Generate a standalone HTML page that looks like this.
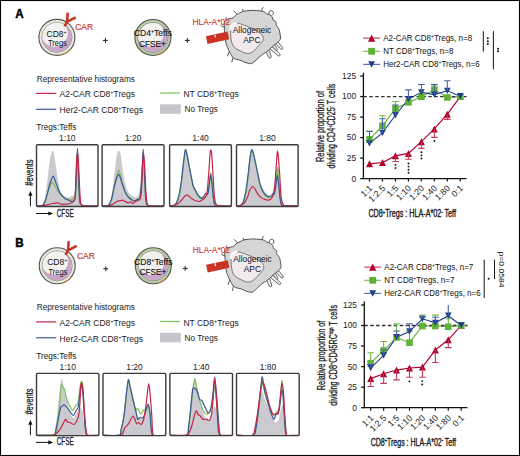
<!DOCTYPE html><html><head><meta charset="utf-8"><style>html,body{margin:0;padding:0;background:#fff}svg{display:block}text{font-family:"Liberation Sans",sans-serif}</style></head><body>
<svg width="520" height="456" viewBox="0 0 520 456">
<rect x="0" y="0" width="520" height="456" fill="#fff"/>
<text x="15.2" y="18.2" font-size="13.2" fill="#000" text-anchor="start" font-weight="bold" textLength="8.4" lengthAdjust="spacingAndGlyphs" stroke="#000" stroke-width="0.5">A</text>
<g>
<circle cx="56.9" cy="37.4" r="18" fill="#e7e9da" stroke="#555" stroke-width="1.1"/>
<path d="M70.69,48.97 A18,18 0 0,1 61.56,54.79" fill="none" stroke="#d98a2a" stroke-width="1" opacity="0.8"/>
<circle cx="56.9" cy="37.4" r="15" fill="#f1f2ed" stroke="#7d7d7d" stroke-width="0.8"/>
<clipPath id="cc606"><circle cx="56.9" cy="37.4" r="14.6"/></clipPath>
<g clip-path="url(#cc606)"><circle cx="56.9" cy="37.4" r="15" fill="#c9a6c8"/><circle cx="54.3" cy="33.2" r="13.4" fill="#f1f2ed"/></g>
<path d="M47.9,27.4 A13,13 0 0,1 52.9,24.9" fill="none" stroke="#ffffff" stroke-width="1.6" stroke-linecap="round"/>
<text x="46.6" y="36.75" font-size="8.8" fill="#111" textLength="20" lengthAdjust="spacingAndGlyphs">CD8<tspan font-size="5.5" dy="-3">+</tspan></text>
<text x="47.9" y="46.1" font-size="8.8" fill="#111" textLength="19" lengthAdjust="spacingAndGlyphs">Tregs</text>
</g>
<path d="M64.5,26.3 L67.1,21.8 L67.7,12.6 M67.1,21.8 L75.7,17.3" stroke="#c93424" stroke-width="2.6" fill="none" stroke-linecap="butt" stroke-linejoin="miter"/>
<text x="75.2" y="29.6" font-size="9.3" fill="#c93424" text-anchor="start" font-weight="normal" textLength="17.9" lengthAdjust="spacingAndGlyphs" stroke="#c93424" stroke-width="0.15">CAR</text>
<path d="M102.9,40.4 h5 M105.4,37.9 v5" stroke="#222" stroke-width="1" fill="none"/>
<g>
<circle cx="152.9" cy="37.5" r="18" fill="#b9cca3" stroke="#555" stroke-width="1.1"/>
<path d="M166.69,49.07 A18,18 0 0,1 157.56,54.89" fill="none" stroke="#d98a2a" stroke-width="1" opacity="0.8"/>
<circle cx="152.9" cy="37.5" r="15" fill="#f1f2ed" stroke="#7d7d7d" stroke-width="0.8"/>
<clipPath id="cc1566"><circle cx="152.9" cy="37.5" r="14.6"/></clipPath>
<g clip-path="url(#cc1566)"><circle cx="152.9" cy="37.5" r="15" fill="#c9a6c8"/><circle cx="150.3" cy="33.3" r="13.4" fill="#f1f2ed"/></g>
<path d="M143.9,27.5 A13,13 0 0,1 148.9,25" fill="none" stroke="#ffffff" stroke-width="1.6" stroke-linecap="round"/>
<text x="133.8" y="36.3" font-size="8.8" fill="#111" textLength="38.2" lengthAdjust="spacingAndGlyphs" stroke="#111" stroke-width="0.12">CD4<tspan font-size="5.5" dy="-3">+</tspan><tspan dy="3">Teffs</tspan></text>
<text x="138.9" y="46.5" font-size="8.8" fill="#111" textLength="27.1" lengthAdjust="spacingAndGlyphs" stroke="#111" stroke-width="0.12">CFSE+</text>
</g>
<path d="M184.9,40.4 h5 M187.4,37.9 v5" stroke="#222" stroke-width="1" fill="none"/>
<path d="M275.59,43.49 C275.73,44.34 277.65,45.88 278.49,46.79 C279.32,47.71 279.94,48.59 280.6,48.99 C281.25,49.39 282.1,49.47 282.4,49.2 C282.7,48.93 282.74,48.08 282.42,47.38 C282.11,46.69 281.32,45.95 280.51,45.01 C279.71,44.06 278.44,41.96 277.61,41.71 C276.79,41.46 275.44,42.64 275.59,43.49Z" fill="#ececec" stroke="#505050" stroke-width="0.9"/>
<path d="M272.32,45.63 C272.25,46.33 273.54,47.76 274.02,48.53 C274.5,49.31 274.73,49.91 275.2,50.29 C275.66,50.67 276.48,50.99 276.8,50.8 C277.12,50.61 277.24,49.74 277.14,49.15 C277.03,48.56 276.62,48.07 276.18,47.27 C275.74,46.47 275.12,44.64 274.48,44.37 C273.84,44.1 272.4,44.94 272.32,45.63Z" fill="#ececec" stroke="#505050" stroke-width="0.9"/>
<path d="M269.91,48.62 C270.39,49.62 273.14,51.45 274.51,52.62 C275.89,53.79 277.27,55.13 278.18,55.63 C279.1,56.13 279.73,55.91 280,55.6 C280.27,55.29 280.4,54.63 279.78,53.8 C279.16,52.96 277.63,51.78 276.29,50.58 C274.94,49.38 272.75,46.91 271.69,46.58 C270.62,46.25 269.44,47.61 269.91,48.62Z" fill="#ececec" stroke="#505050" stroke-width="0.9"/>
<path d="M266.24,51.1 C266.02,51.9 267.23,53.9 267.64,54.95 C268.04,55.99 268.22,56.82 268.68,57.38 C269.14,57.94 269.99,58.45 270.4,58.3 C270.81,58.15 271.14,57.22 271.13,56.49 C271.12,55.77 270.72,55.02 270.36,53.95 C270,52.89 269.65,50.58 268.96,50.1 C268.28,49.63 266.46,50.29 266.24,51.1Z" fill="#ececec" stroke="#505050" stroke-width="0.9"/>
<path d="M224.8,36 C224.53,33.77 224.68,31.95 224.6,30.5 C224.52,29.05 224.35,28.57 224.3,27.3 C224.25,26.03 224.03,24.05 224.3,22.9 C224.57,21.75 225.22,21.08 225.9,20.4 C226.58,19.72 227.4,19.15 228.4,18.8 C229.4,18.45 230.87,18.67 231.9,18.3 C232.93,17.93 233.82,17.25 234.6,16.6 C235.38,15.95 235.98,14.88 236.6,14.4 C237.22,13.92 237.58,14.03 238.3,13.7 C239.02,13.37 240.03,12.82 240.9,12.4 C241.77,11.98 242.35,11.48 243.5,11.2 C244.65,10.92 246.38,10.85 247.8,10.7 C249.22,10.55 250.6,10.33 252,10.3 C253.4,10.27 254.82,10.4 256.2,10.5 C257.58,10.6 259.03,10.7 260.3,10.9 C261.57,11.1 262.77,11.25 263.8,11.7 C264.83,12.15 265.67,13.17 266.5,13.6 C267.33,14.03 268.05,13.97 268.8,14.3 C269.55,14.63 270.37,15 271,15.6 C271.63,16.2 272.23,17.17 272.6,17.9 C272.97,18.63 272.8,19.47 273.2,20 C273.6,20.53 274.48,20.7 275,21.1 C275.52,21.5 276.13,21.92 276.3,22.4 C276.47,22.88 275.95,23.43 276,24 C276.05,24.57 276.27,25.2 276.6,25.8 C276.93,26.4 277.53,26.85 278,27.6 C278.47,28.35 279.07,29.23 279.4,30.3 C279.73,31.37 279.8,32.72 280,34 C280.2,35.28 280.67,36.95 280.6,38 C280.53,39.05 280.07,39.58 279.6,40.3 C279.13,41.02 278.53,41.63 277.8,42.3 C277.07,42.97 276.08,43.58 275.2,44.3 C274.32,45.02 273.62,45.6 272.5,46.6 C271.38,47.6 269.55,49.37 268.5,50.3 C267.45,51.23 266.93,51.68 266.2,52.2 C265.47,52.72 264.97,52.85 264.1,53.4 C263.23,53.95 262.02,54.7 261,55.5 C259.98,56.3 259,57.27 258,58.2 C257,59.13 256.07,60.2 255,61.1 C253.93,62 252.78,63.25 251.6,63.6 C250.42,63.95 249.15,63.47 247.9,63.2 C246.65,62.93 245.23,62.45 244.1,62 C242.97,61.55 242.1,60.88 241.1,60.5 C240.1,60.12 239.08,59.95 238.1,59.7 C237.12,59.45 236.07,59.37 235.2,59 C234.33,58.63 233.53,58.13 232.9,57.5 C232.27,56.87 232.02,56.2 231.4,55.2 C230.78,54.2 229.82,52.75 229.2,51.5 C228.58,50.25 228.2,48.97 227.7,47.7 C227.2,46.43 226.68,45.85 226.2,43.9 C225.72,41.95 225.07,38.23 224.8,36Z" fill="#d5d5d6" stroke="#505050" stroke-width="1.0"/>
<path d="M224.4,27.3 C224.1,27.18 223.15,26.87 222.6,26.6 C222.05,26.33 221.35,25.85 221.1,25.7" fill="none" stroke="#505050" stroke-width="1.0" stroke-linecap="round"/>
<path d="M226.4,19.9 C226.28,19.63 225.7,18.75 225.7,18.3 C225.7,17.85 226.28,17.38 226.4,17.2" fill="none" stroke="#505050" stroke-width="1.0" stroke-linecap="round"/>
<path d="M236.9,14.2 C236.62,13.88 235.7,12.83 235.2,12.3 C234.7,11.77 234.12,11.22 233.9,11" fill="none" stroke="#505050" stroke-width="1.0" stroke-linecap="round"/>
<path d="M243.2,11.3 C243.13,11.12 242.9,10.52 242.8,10.2 C242.7,9.88 242.63,9.53 242.6,9.4" fill="none" stroke="#505050" stroke-width="1.0" stroke-linecap="round"/>
<path d="M261.9,10.9 C261.92,10.62 261.8,9.77 262,9.2 C262.2,8.63 262.92,7.78 263.1,7.5" fill="none" stroke="#505050" stroke-width="1.0" stroke-linecap="round"/>
<path d="M268.8,14.2 C268.85,13.82 268.78,12.5 269.1,11.9 C269.42,11.3 270.08,10.7 270.7,10.6 C271.32,10.5 272.35,10.8 272.8,11.3 C273.25,11.8 273.52,12.95 273.4,13.6 C273.28,14.25 272.32,14.93 272.1,15.2" fill="none" stroke="#505050" stroke-width="1.0" stroke-linecap="round"/>
<path d="M229.3,51.8 C229.1,52.17 228.37,53.32 228.1,54 C227.83,54.68 227.77,55.58 227.7,55.9" fill="none" stroke="#505050" stroke-width="1.0" stroke-linecap="round"/>
<path d="M233,57.6 C232.88,58 232.5,59.28 232.3,60 C232.1,60.72 231.88,61.58 231.8,61.9" fill="none" stroke="#505050" stroke-width="1.0" stroke-linecap="round"/>
<path d="M231.2,27 C231.77,25.47 232.97,24.43 234,23.8 C235.03,23.17 236.07,23.1 237.4,23.2 C238.73,23.3 240.27,23.83 242,24.4 C243.73,24.97 245.8,25.78 247.8,26.6 C249.8,27.42 252.22,28.4 254,29.3 C255.78,30.2 257.17,31.05 258.5,32 C259.83,32.95 261.18,33.92 262,35 C262.82,36.08 263.4,37.33 263.4,38.5 C263.4,39.67 262.77,40.83 262,42 C261.23,43.17 259.8,44.38 258.8,45.5 C257.8,46.62 256.97,47.7 256,48.7 C255.03,49.7 254.08,50.73 253,51.5 C251.92,52.27 250.83,53.05 249.5,53.3 C248.17,53.55 246.52,53.4 245,53 C243.48,52.6 241.92,51.63 240.4,50.9 C238.88,50.17 237.15,49.52 235.9,48.6 C234.65,47.68 233.68,46.83 232.9,45.4 C232.12,43.97 231.58,42.07 231.2,40 C230.82,37.93 230.6,35.17 230.6,33 C230.6,30.83 230.63,28.53 231.2,27Z" fill="#f4eaed" stroke="#5e5e5e" stroke-width="0.8"/>
<path d="M230.4,29.5 Q231,23.6 236.2,22.9" fill="none" stroke="#fff" stroke-width="2.0" stroke-linecap="round"/>
<text x="232.7" y="33.3" font-size="8.6" fill="#111" text-anchor="start" font-weight="normal" textLength="38.6" lengthAdjust="spacingAndGlyphs" >Allogeneic</text>
<text x="243.2" y="43.1" font-size="8.6" fill="#111" text-anchor="start" font-weight="normal" textLength="17.4" lengthAdjust="spacingAndGlyphs" >APC</text>
<text x="192.5" y="24.5" font-size="9.2" fill="#c93424" text-anchor="start" font-weight="normal" textLength="37.3" lengthAdjust="spacingAndGlyphs" stroke="#c93424" stroke-width="0.1">HLA-A*02</text>
<path d="M205.9,36.2 L227.6,31.6 L229.2,39.2 L207.5,44 Z" fill="#c93424"/>
<path d="M214.8,34.5 l0.6,3" stroke="#fff" stroke-width="1.1"/>
<text x="15.2" y="246.8" font-size="13.2" fill="#000" text-anchor="start" font-weight="bold" textLength="8.4" lengthAdjust="spacingAndGlyphs" stroke="#000" stroke-width="0.5">B</text>
<g>
<circle cx="57.2" cy="265.8" r="18" fill="#e7e9da" stroke="#555" stroke-width="1.1"/>
<path d="M70.99,277.37 A18,18 0 0,1 61.86,283.19" fill="none" stroke="#d98a2a" stroke-width="1" opacity="0.8"/>
<circle cx="57.2" cy="265.8" r="15" fill="#f1f2ed" stroke="#7d7d7d" stroke-width="0.8"/>
<clipPath id="cc837"><circle cx="57.2" cy="265.8" r="14.6"/></clipPath>
<g clip-path="url(#cc837)"><circle cx="57.2" cy="265.8" r="15" fill="#c9a6c8"/><circle cx="54.6" cy="261.6" r="13.4" fill="#f1f2ed"/></g>
<path d="M48.2,255.8 A13,13 0 0,1 53.2,253.3" fill="none" stroke="#ffffff" stroke-width="1.6" stroke-linecap="round"/>
<text x="47.2" y="265" font-size="8.8" fill="#111" textLength="20.2" lengthAdjust="spacingAndGlyphs">CD8<tspan font-size="5.5" dy="-3">+</tspan></text>
<text x="48.5" y="274.5" font-size="8.8" fill="#111" textLength="18.8" lengthAdjust="spacingAndGlyphs">Tregs</text>
</g>
<path d="M65.5,254.9 L68.1,250.4 L68.7,241.2 M68.1,250.4 L76.7,245.9" stroke="#c93424" stroke-width="2.6" fill="none" stroke-linecap="butt" stroke-linejoin="miter"/>
<text x="77" y="258.9" font-size="9.3" fill="#c93424" text-anchor="start" font-weight="normal" textLength="17.9" lengthAdjust="spacingAndGlyphs" stroke="#c93424" stroke-width="0.15">CAR</text>
<path d="M103.3,268.8 h5 M105.8,266.3 v5" stroke="#222" stroke-width="1" fill="none"/>
<g>
<circle cx="153.3" cy="265.8" r="18" fill="#b9cca3" stroke="#555" stroke-width="1.1"/>
<path d="M167.09,277.37 A18,18 0 0,1 157.96,283.19" fill="none" stroke="#d98a2a" stroke-width="1" opacity="0.8"/>
<circle cx="153.3" cy="265.8" r="15" fill="#f1f2ed" stroke="#7d7d7d" stroke-width="0.8"/>
<clipPath id="cc1798"><circle cx="153.3" cy="265.8" r="14.6"/></clipPath>
<g clip-path="url(#cc1798)"><circle cx="153.3" cy="265.8" r="15" fill="#c9a6c8"/><circle cx="150.7" cy="261.6" r="13.4" fill="#f1f2ed"/></g>
<path d="M144.3,255.8 A13,13 0 0,1 149.3,253.3" fill="none" stroke="#ffffff" stroke-width="1.6" stroke-linecap="round"/>
<text x="134" y="264.8" font-size="8.8" fill="#111" textLength="38.5" lengthAdjust="spacingAndGlyphs" stroke="#111" stroke-width="0.12">CD8<tspan font-size="5.5" dy="-3">+</tspan><tspan dy="3">Teffs</tspan></text>
<text x="139.4" y="274.6" font-size="8.8" fill="#111" textLength="27.1" lengthAdjust="spacingAndGlyphs" stroke="#111" stroke-width="0.12">CFSE+</text>
</g>
<path d="M182.7,268.4 h5 M185.2,265.9 v5" stroke="#222" stroke-width="1" fill="none"/>
<path d="M276.09,272.09 C276.23,272.94 278.15,274.48 278.99,275.39 C279.82,276.31 280.44,277.19 281.1,277.59 C281.75,277.99 282.6,278.07 282.9,277.8 C283.2,277.53 283.24,276.68 282.92,275.98 C282.61,275.29 281.82,274.55 281.01,273.61 C280.21,272.66 278.94,270.56 278.11,270.31 C277.29,270.06 275.94,271.24 276.09,272.09Z" fill="#ececec" stroke="#505050" stroke-width="0.9"/>
<path d="M272.82,274.23 C272.75,274.93 274.04,276.36 274.52,277.13 C275,277.91 275.23,278.51 275.7,278.89 C276.16,279.27 276.98,279.59 277.3,279.4 C277.62,279.21 277.74,278.34 277.64,277.75 C277.53,277.16 277.12,276.67 276.68,275.87 C276.24,275.07 275.62,273.24 274.98,272.97 C274.34,272.7 272.9,273.54 272.82,274.23Z" fill="#ececec" stroke="#505050" stroke-width="0.9"/>
<path d="M270.41,277.22 C270.89,278.22 273.64,280.05 275.01,281.22 C276.39,282.39 277.77,283.73 278.68,284.23 C279.6,284.73 280.23,284.51 280.5,284.2 C280.77,283.89 280.9,283.23 280.28,282.4 C279.66,281.56 278.13,280.38 276.79,279.18 C275.44,277.98 273.25,275.51 272.19,275.18 C271.12,274.85 269.94,276.21 270.41,277.22Z" fill="#ececec" stroke="#505050" stroke-width="0.9"/>
<path d="M266.74,279.7 C266.52,280.5 267.73,282.5 268.14,283.55 C268.54,284.59 268.72,285.42 269.18,285.98 C269.64,286.54 270.49,287.05 270.9,286.9 C271.31,286.75 271.64,285.82 271.63,285.09 C271.62,284.37 271.22,283.62 270.86,282.55 C270.5,281.49 270.15,279.18 269.46,278.7 C268.78,278.23 266.96,278.89 266.74,279.7Z" fill="#ececec" stroke="#505050" stroke-width="0.9"/>
<path d="M225.3,264.6 C225.03,262.37 225.18,260.55 225.1,259.1 C225.02,257.65 224.85,257.17 224.8,255.9 C224.75,254.63 224.53,252.65 224.8,251.5 C225.07,250.35 225.72,249.68 226.4,249 C227.08,248.32 227.9,247.75 228.9,247.4 C229.9,247.05 231.37,247.27 232.4,246.9 C233.43,246.53 234.32,245.85 235.1,245.2 C235.88,244.55 236.48,243.48 237.1,243 C237.72,242.52 238.08,242.63 238.8,242.3 C239.52,241.97 240.53,241.42 241.4,241 C242.27,240.58 242.85,240.08 244,239.8 C245.15,239.52 246.88,239.45 248.3,239.3 C249.72,239.15 251.1,238.93 252.5,238.9 C253.9,238.87 255.32,239 256.7,239.1 C258.08,239.2 259.53,239.3 260.8,239.5 C262.07,239.7 263.27,239.85 264.3,240.3 C265.33,240.75 266.17,241.77 267,242.2 C267.83,242.63 268.55,242.57 269.3,242.9 C270.05,243.23 270.87,243.6 271.5,244.2 C272.13,244.8 272.73,245.77 273.1,246.5 C273.47,247.23 273.3,248.07 273.7,248.6 C274.1,249.13 274.98,249.3 275.5,249.7 C276.02,250.1 276.63,250.52 276.8,251 C276.97,251.48 276.45,252.03 276.5,252.6 C276.55,253.17 276.77,253.8 277.1,254.4 C277.43,255 278.03,255.45 278.5,256.2 C278.97,256.95 279.57,257.83 279.9,258.9 C280.23,259.97 280.3,261.32 280.5,262.6 C280.7,263.88 281.17,265.55 281.1,266.6 C281.03,267.65 280.57,268.18 280.1,268.9 C279.63,269.62 279.03,270.23 278.3,270.9 C277.57,271.57 276.58,272.18 275.7,272.9 C274.82,273.62 274.12,274.2 273,275.2 C271.88,276.2 270.05,277.97 269,278.9 C267.95,279.83 267.43,280.28 266.7,280.8 C265.97,281.32 265.47,281.45 264.6,282 C263.73,282.55 262.52,283.3 261.5,284.1 C260.48,284.9 259.5,285.87 258.5,286.8 C257.5,287.73 256.57,288.8 255.5,289.7 C254.43,290.6 253.28,291.85 252.1,292.2 C250.92,292.55 249.65,292.07 248.4,291.8 C247.15,291.53 245.73,291.05 244.6,290.6 C243.47,290.15 242.6,289.48 241.6,289.1 C240.6,288.72 239.58,288.55 238.6,288.3 C237.62,288.05 236.57,287.97 235.7,287.6 C234.83,287.23 234.03,286.73 233.4,286.1 C232.77,285.47 232.52,284.8 231.9,283.8 C231.28,282.8 230.32,281.35 229.7,280.1 C229.08,278.85 228.7,277.57 228.2,276.3 C227.7,275.03 227.18,274.45 226.7,272.5 C226.22,270.55 225.57,266.83 225.3,264.6Z" fill="#d5d5d6" stroke="#505050" stroke-width="1.0"/>
<path d="M224.9,255.9 C224.6,255.78 223.65,255.47 223.1,255.2 C222.55,254.93 221.85,254.45 221.6,254.3" fill="none" stroke="#505050" stroke-width="1.0" stroke-linecap="round"/>
<path d="M226.9,248.5 C226.78,248.23 226.2,247.35 226.2,246.9 C226.2,246.45 226.78,245.98 226.9,245.8" fill="none" stroke="#505050" stroke-width="1.0" stroke-linecap="round"/>
<path d="M237.4,242.8 C237.12,242.48 236.2,241.43 235.7,240.9 C235.2,240.37 234.62,239.82 234.4,239.6" fill="none" stroke="#505050" stroke-width="1.0" stroke-linecap="round"/>
<path d="M243.7,239.9 C243.63,239.72 243.4,239.12 243.3,238.8 C243.2,238.48 243.13,238.13 243.1,238" fill="none" stroke="#505050" stroke-width="1.0" stroke-linecap="round"/>
<path d="M262.4,239.5 C262.42,239.22 262.3,238.37 262.5,237.8 C262.7,237.23 263.42,236.38 263.6,236.1" fill="none" stroke="#505050" stroke-width="1.0" stroke-linecap="round"/>
<path d="M269.3,242.8 C269.35,242.42 269.28,241.1 269.6,240.5 C269.92,239.9 270.58,239.3 271.2,239.2 C271.82,239.1 272.85,239.4 273.3,239.9 C273.75,240.4 274.02,241.55 273.9,242.2 C273.78,242.85 272.82,243.53 272.6,243.8" fill="none" stroke="#505050" stroke-width="1.0" stroke-linecap="round"/>
<path d="M229.8,280.4 C229.6,280.77 228.87,281.92 228.6,282.6 C228.33,283.28 228.27,284.18 228.2,284.5" fill="none" stroke="#505050" stroke-width="1.0" stroke-linecap="round"/>
<path d="M233.5,286.2 C233.38,286.6 233,287.88 232.8,288.6 C232.6,289.32 232.38,290.18 232.3,290.5" fill="none" stroke="#505050" stroke-width="1.0" stroke-linecap="round"/>
<path d="M231.7,255.6 C232.27,254.07 233.47,253.03 234.5,252.4 C235.53,251.77 236.57,251.7 237.9,251.8 C239.23,251.9 240.77,252.43 242.5,253 C244.23,253.57 246.3,254.38 248.3,255.2 C250.3,256.02 252.72,257 254.5,257.9 C256.28,258.8 257.67,259.65 259,260.6 C260.33,261.55 261.68,262.52 262.5,263.6 C263.32,264.68 263.9,265.93 263.9,267.1 C263.9,268.27 263.27,269.43 262.5,270.6 C261.73,271.77 260.3,272.98 259.3,274.1 C258.3,275.22 257.47,276.3 256.5,277.3 C255.53,278.3 254.58,279.33 253.5,280.1 C252.42,280.87 251.33,281.65 250,281.9 C248.67,282.15 247.02,282 245.5,281.6 C243.98,281.2 242.42,280.23 240.9,279.5 C239.38,278.77 237.65,278.12 236.4,277.2 C235.15,276.28 234.18,275.43 233.4,274 C232.62,272.57 232.08,270.67 231.7,268.6 C231.32,266.53 231.1,263.77 231.1,261.6 C231.1,259.43 231.13,257.13 231.7,255.6Z" fill="#f4eaed" stroke="#5e5e5e" stroke-width="0.8"/>
<path d="M230.9,258.1 Q231.5,252.2 236.7,251.5" fill="none" stroke="#fff" stroke-width="2.0" stroke-linecap="round"/>
<text x="233.2" y="261.9" font-size="8.6" fill="#111" text-anchor="start" font-weight="normal" textLength="38.6" lengthAdjust="spacingAndGlyphs" >Allogeneic</text>
<text x="243.7" y="271.7" font-size="8.6" fill="#111" text-anchor="start" font-weight="normal" textLength="17.4" lengthAdjust="spacingAndGlyphs" >APC</text>
<text x="192.7" y="253.1" font-size="9.2" fill="#c93424" text-anchor="start" font-weight="normal" textLength="37.3" lengthAdjust="spacingAndGlyphs" stroke="#c93424" stroke-width="0.1">HLA-A*02</text>
<path d="M206.1,264.8 L227.8,260.2 L229.4,267.8 L207.7,272.6 Z" fill="#c93424"/>
<path d="M215,263.1 l0.6,3" stroke="#fff" stroke-width="1.1"/>
<text x="36.7" y="81.6" font-size="8.3" fill="#1a1a1a" text-anchor="start" font-weight="normal" textLength="98.3" lengthAdjust="spacingAndGlyphs" >Representative histograms</text>
<line x1="36.1" y1="93.4" x2="56.3" y2="93.4" stroke="#c4254a" stroke-width="1.2"/>
<line x1="36.1" y1="109.3" x2="56.3" y2="109.3" stroke="#3a5a96" stroke-width="1.2"/>
<line x1="160.2" y1="93" x2="179.8" y2="93" stroke="#7cc052" stroke-width="1.2"/>
<rect x="160" y="104.3" width="20.8" height="9.5" fill="#c5c4ca"/>
<text x="59.6" y="97.4" font-size="8.5" fill="#1a1a1a" text-anchor="start" font-weight="normal" textLength="75.4" lengthAdjust="spacingAndGlyphs" >A2-CAR CD8<tspan font-size="5.5" dy="-3">+</tspan><tspan dy="3">Tregs</tspan></text>
<text x="59.6" y="113.4" font-size="8.5" fill="#1a1a1a" text-anchor="start" font-weight="normal" textLength="83.4" lengthAdjust="spacingAndGlyphs" >Her2-CAR CD8<tspan font-size="5.5" dy="-3">+</tspan><tspan dy="3">Tregs</tspan></text>
<text x="183.4" y="97.1" font-size="8.5" fill="#1a1a1a" text-anchor="start" font-weight="normal" textLength="55.3" lengthAdjust="spacingAndGlyphs" >NT CD8<tspan font-size="5.5" dy="-3">+</tspan><tspan dy="3">Tregs</tspan></text>
<text x="184.6" y="112.2" font-size="8.5" fill="#1a1a1a" text-anchor="start" font-weight="normal" textLength="33.2" lengthAdjust="spacingAndGlyphs" >No Tregs</text>
<text x="36.7" y="310.1" font-size="8.3" fill="#1a1a1a" text-anchor="start" font-weight="normal" textLength="98.3" lengthAdjust="spacingAndGlyphs" >Representative histograms</text>
<line x1="36.1" y1="321.9" x2="56.3" y2="321.9" stroke="#c4254a" stroke-width="1.2"/>
<line x1="36.1" y1="337.8" x2="56.3" y2="337.8" stroke="#3a5a96" stroke-width="1.2"/>
<line x1="160.2" y1="321.5" x2="179.8" y2="321.5" stroke="#7cc052" stroke-width="1.2"/>
<rect x="160" y="332.8" width="20.8" height="9.5" fill="#c5c4ca"/>
<text x="59.6" y="325.9" font-size="8.5" fill="#1a1a1a" text-anchor="start" font-weight="normal" textLength="75.4" lengthAdjust="spacingAndGlyphs" >A2-CAR CD8<tspan font-size="5.5" dy="-3">+</tspan><tspan dy="3">Tregs</tspan></text>
<text x="59.6" y="341.9" font-size="8.5" fill="#1a1a1a" text-anchor="start" font-weight="normal" textLength="83.4" lengthAdjust="spacingAndGlyphs" >Her2-CAR CD8<tspan font-size="5.5" dy="-3">+</tspan><tspan dy="3">Tregs</tspan></text>
<text x="183.4" y="325.6" font-size="8.5" fill="#1a1a1a" text-anchor="start" font-weight="normal" textLength="55.3" lengthAdjust="spacingAndGlyphs" >NT CD8<tspan font-size="5.5" dy="-3">+</tspan><tspan dy="3">Tregs</tspan></text>
<text x="184.6" y="340.7" font-size="8.5" fill="#1a1a1a" text-anchor="start" font-weight="normal" textLength="33.2" lengthAdjust="spacingAndGlyphs" >No Tregs</text>
<text x="36.2" y="129.9" font-size="8.3" fill="#1a1a1a" text-anchor="start" font-weight="normal" textLength="40.3" lengthAdjust="spacingAndGlyphs" >Tregs:Teffs</text>
<text x="36.2" y="358.7" font-size="8.3" fill="#1a1a1a" text-anchor="start" font-weight="normal" textLength="40.3" lengthAdjust="spacingAndGlyphs" >Tregs:Teffs</text>
<text x="67.35" y="140.9" font-size="8.3" fill="#1a1a1a" text-anchor="middle" font-weight="normal" textLength="16.5" lengthAdjust="spacingAndGlyphs" >1:10</text>
<text x="133.15" y="140.9" font-size="8.3" fill="#1a1a1a" text-anchor="middle" font-weight="normal" textLength="16.5" lengthAdjust="spacingAndGlyphs" >1:20</text>
<text x="200.6" y="140.9" font-size="8.3" fill="#1a1a1a" text-anchor="middle" font-weight="normal" textLength="16.5" lengthAdjust="spacingAndGlyphs" >1:40</text>
<text x="267.4" y="140.9" font-size="8.3" fill="#1a1a1a" text-anchor="middle" font-weight="normal" textLength="16.5" lengthAdjust="spacingAndGlyphs" >1:80</text>
<text x="67.8" y="369.7" font-size="8.3" fill="#1a1a1a" text-anchor="middle" font-weight="normal" textLength="16.5" lengthAdjust="spacingAndGlyphs" >1:10</text>
<text x="134.5" y="369.7" font-size="8.3" fill="#1a1a1a" text-anchor="middle" font-weight="normal" textLength="16.5" lengthAdjust="spacingAndGlyphs" >1:20</text>
<text x="201.3" y="369.7" font-size="8.3" fill="#1a1a1a" text-anchor="middle" font-weight="normal" textLength="16.5" lengthAdjust="spacingAndGlyphs" >1:40</text>
<text x="267.95" y="369.7" font-size="8.3" fill="#1a1a1a" text-anchor="middle" font-weight="normal" textLength="16.5" lengthAdjust="spacingAndGlyphs" >1:80</text>
<clipPath id="c36_144"><rect x="36.5" y="144.75" width="61.5" height="61.75"/></clipPath>
<g clip-path="url(#c36_144)">
<path d="M36.5,206.5 C37.07,206.4 40.5,206.11 41.4,205.6 C42.3,205.09 43.64,203.62 44.2,202.1 C44.76,200.58 45.73,195.61 46.2,192.6 C46.67,189.59 47.72,180.1 48.2,176.3 C48.68,172.5 49.82,162.94 50.3,160 C50.78,157.06 51.9,151.89 52.3,151.1 C52.7,150.31 53.39,151.85 53.7,153.2 C54.02,154.55 54.69,160.48 55,162.7 C55.31,164.92 56.07,169.98 56.4,172.2 C56.73,174.42 57.4,179.63 57.8,181.7 C58.2,183.76 59.25,188.31 59.8,189.9 C60.35,191.49 61.79,194.43 62.5,195.3 C63.21,196.18 65.03,197.16 65.9,197.4 C66.78,197.65 69.28,197.56 70,197.4 C70.72,197.24 71.62,196.14 72.1,196 C72.58,195.86 73.69,197.13 74.1,196.2 C74.51,195.27 75.3,190.82 75.6,188 C75.9,185.18 76.48,174.68 76.7,172 C76.92,169.32 77.29,164.65 77.5,165 C77.71,165.35 78.28,171.85 78.5,175 C78.72,178.15 79.18,188.68 79.4,192 C79.62,195.32 80.12,201.91 80.4,203.5 C80.68,205.09 79.75,205.25 81.8,205.6 C83.85,205.95 96.11,206.4 98,206.5 Z" fill="#cbcad0" stroke="#b4b4b8" stroke-width="0.4"/>
<path d="M36.5,206.2 C37.26,206.12 41.95,206.13 43,205.5 C44.05,204.87 44.89,202.46 45.5,200.8 C46.11,199.14 47.64,193.05 48.2,191.3 C48.76,189.55 49.84,186.84 50.3,185.8 C50.75,184.76 51.7,182.63 52.1,182.4 C52.5,182.17 53.2,183.09 53.7,183.8 C54.2,184.51 55.69,187.31 56.4,188.5 C57.11,189.69 59.01,193.04 59.8,194 C60.59,194.96 62.33,196.07 63.2,196.7 C64.08,197.33 66.42,199 67.3,199.4 C68.17,199.8 70.07,200.18 70.7,200.1 C71.33,200.02 72.22,199.1 72.7,198.7 C73.18,198.3 74.39,198.88 74.8,196.7 C75.21,194.52 75.91,184.28 76.2,180 C76.49,175.72 77.04,160 77.3,160 C77.56,160 78.13,175.33 78.4,180 C78.67,184.67 79.23,197.05 79.6,200 C79.97,202.95 79.45,204.58 81.6,205.3 C83.75,206.02 96.09,206.09 98,206.2" fill="none" stroke="#7cc052" stroke-width="1.2" stroke-linejoin="round"/>
<path d="M36.5,206.2 C37.15,206.12 41.13,205.98 42.1,205.5 C43.07,205.02 44.16,203.6 44.8,202.1 C45.44,200.59 47.04,194.65 47.6,192.6 C48.16,190.55 49.13,186.09 49.6,184.5 C50.07,182.91 51.16,179.99 51.6,179 C52.04,178.01 53,175.84 53.4,176 C53.8,176.16 54.57,179.26 55,180.4 C55.43,181.54 56.62,184.53 57.1,185.8 C57.58,187.07 58.54,190.19 59.1,191.3 C59.66,192.41 61.18,194.44 61.9,195.3 C62.62,196.16 64.51,198.14 65.3,198.7 C66.09,199.26 67.99,199.76 68.7,200.1 C69.41,200.44 70.85,201.52 71.4,201.6 C71.95,201.68 72.95,201.37 73.4,200.8 C73.86,200.23 74.95,200.04 75.3,196.7 C75.65,193.36 76.14,177.83 76.4,172.2 C76.66,166.56 77.25,148.4 77.5,148.4 C77.75,148.4 78.25,166.25 78.5,172.2 C78.75,178.15 79.24,195.54 79.6,199.4 C79.96,203.26 79.45,204.51 81.6,205.3 C83.75,206.09 96.09,206.09 98,206.2" fill="none" stroke="#3a5a96" stroke-width="1.2" stroke-linejoin="round"/>
<path d="M36.5,206.2 C37.07,206.18 40.19,206.15 41.4,206 C42.61,205.85 45.63,205.19 46.9,204.9 C48.17,204.61 51.03,203.75 52.3,203.5 C53.57,203.25 56.76,202.72 57.8,202.8 C58.84,202.88 60.26,204.04 61.2,204.2 C62.15,204.36 64.87,204.28 65.9,204.2 C66.93,204.12 69.21,203.75 70,203.5 C70.79,203.25 72.14,202.58 72.7,202.1 C73.26,201.62 74.45,201.3 74.8,199.4 C75.15,197.5 75.5,190.25 75.7,185.8 C75.9,181.36 76.29,165.19 76.5,161.3 C76.71,157.42 77.28,152.5 77.5,152.5 C77.72,152.5 78.17,157.42 78.4,161.3 C78.63,165.19 79.24,181.04 79.5,185.8 C79.76,190.56 80.2,199.8 80.6,202.1 C81,204.4 80.87,205.02 82.9,205.5 C84.93,205.98 96.24,206.12 98,206.2" fill="none" stroke="#c4254a" stroke-width="1.2" stroke-linejoin="round"/>
</g>
<rect x="36.5" y="144.75" width="61.5" height="61.75" rx="1" fill="none" stroke="#3a3a3a" stroke-width="1.4"/>
<clipPath id="c102_144"><rect x="102.1" y="144.75" width="61.9" height="61.75"/></clipPath>
<g clip-path="url(#c102_144)">
<path d="M102.1,206.5 C102.8,206.4 107.08,206.43 108.1,205.6 C109.11,204.77 110.24,201.23 110.8,199.4 C111.36,197.57 112.42,193.07 112.9,189.9 C113.38,186.73 114.42,176.17 114.9,172.2 C115.38,168.23 116.57,158.36 117,155.9 C117.43,153.44 118.2,151.26 118.6,151.1 C119,150.94 120.04,152.83 120.4,154.5 C120.76,156.17 121.3,162.54 121.7,165.4 C122.1,168.26 123.32,176.46 123.8,179 C124.28,181.54 125.25,185.53 125.8,187.2 C126.35,188.87 127.79,192.27 128.5,193.3 C129.21,194.33 131.11,195.52 131.9,196 C132.69,196.48 134.58,197.4 135.3,197.4 C136.02,197.4 137.54,196.88 138.1,196 C138.66,195.12 139.69,192.7 140.1,189.9 C140.51,187.1 141.28,175.34 141.6,172 C141.91,168.66 142.52,161.3 142.8,161.3 C143.08,161.3 143.75,169.14 144,172 C144.25,174.86 144.64,182.29 144.9,185.8 C145.16,189.31 145.88,199.79 146.2,202.1 C146.51,204.41 145.52,205.09 147.6,205.6 C149.68,206.11 162.09,206.4 164,206.5 Z" fill="#cbcad0" stroke="#b4b4b8" stroke-width="0.4"/>
<path d="M102.1,206.2 C102.88,206.12 107.7,206.29 108.8,205.5 C109.9,204.71 110.87,201.7 111.5,199.4 C112.13,197.1 113.56,188.66 114.2,185.8 C114.84,182.94 116.49,176.72 117,174.9 C117.51,173.08 118.2,170.2 118.6,170.2 C119,170.2 119.96,173.4 120.4,174.9 C120.84,176.41 121.85,181.19 122.4,183.1 C122.95,185.01 124.39,189.71 125.1,191.3 C125.81,192.89 127.71,195.75 128.5,196.7 C129.29,197.64 131.18,198.92 131.9,199.4 C132.62,199.88 134.14,200.72 134.7,200.8 C135.26,200.88 136.23,200.41 136.7,200.1 C137.17,199.78 138.24,198.58 138.7,198.1 C139.16,197.62 140.19,199.04 140.6,196 C141.01,192.96 141.9,177.13 142.2,172 C142.5,166.87 142.95,152 143.2,152 C143.44,152 144,166.47 144.3,172 C144.6,177.53 145.33,195.49 145.8,199.4 C146.27,203.31 146.18,204.71 148.3,205.5 C150.42,206.29 162.17,206.12 164,206.2" fill="none" stroke="#7cc052" stroke-width="1.2" stroke-linejoin="round"/>
<path d="M102.1,206.2 C102.8,206.12 107,206.29 108.1,205.5 C109.2,204.71 110.79,201.53 111.5,199.4 C112.21,197.27 113.59,189.73 114.2,187.2 C114.81,184.67 116.19,179.2 116.7,177.7 C117.21,176.19 118.17,174.3 118.6,174.3 C119.03,174.3 119.96,176.51 120.4,177.7 C120.84,178.89 121.85,182.84 122.4,184.5 C122.95,186.16 124.39,190.4 125.1,191.9 C125.81,193.41 127.71,196.44 128.5,197.4 C129.29,198.36 131.18,199.7 131.9,200.1 C132.62,200.5 134.06,200.88 134.7,200.8 C135.34,200.72 136.77,199.8 137.4,199.4 C138.03,199 139.55,200.57 140.1,197.4 C140.65,194.23 141.74,177.83 142.1,172.2 C142.46,166.56 142.93,149.1 143.2,149.1 C143.47,149.1 144.1,166.33 144.4,172.2 C144.7,178.07 145.34,195.52 145.8,199.4 C146.26,203.28 146.18,204.71 148.3,205.5 C150.42,206.29 162.17,206.12 164,206.2" fill="none" stroke="#3a5a96" stroke-width="1.2" stroke-linejoin="round"/>
<path d="M102.1,206.2 C102.73,206.18 106.24,206.23 107.5,206 C108.76,205.77 111.79,204.72 112.9,204.2 C114.01,203.67 116.21,201.9 117,201.5 C117.79,201.1 119.07,200.96 119.7,200.8 C120.33,200.64 121.77,200.02 122.4,200.1 C123.03,200.18 124.39,201.19 125.1,201.5 C125.81,201.81 127.86,202.75 128.5,202.8 C129.14,202.85 130.12,201.82 130.6,201.9 C131.08,201.98 132.12,203.48 132.6,203.5 C133.08,203.52 134.14,202.41 134.7,202.1 C135.26,201.78 136.77,201.2 137.4,200.8 C138.03,200.4 139.62,199.97 140.1,198.7 C140.58,197.43 141.22,193.78 141.5,189.9 C141.78,186.02 142.27,169.76 142.5,165.4 C142.73,161.04 143.25,152.5 143.5,152.5 C143.75,152.5 144.33,161.04 144.6,165.4 C144.87,169.76 145.5,185.46 145.8,189.9 C146.1,194.34 146.76,201.62 147.2,203.5 C147.64,205.38 147.64,205.69 149.6,206 C151.56,206.31 162.32,206.18 164,206.2" fill="none" stroke="#c4254a" stroke-width="1.2" stroke-linejoin="round"/>
</g>
<rect x="102.1" y="144.75" width="61.9" height="61.75" rx="1" fill="none" stroke="#3a3a3a" stroke-width="1.4"/>
<clipPath id="c169_144"><rect x="169.6" y="144.75" width="61.8" height="61.75"/></clipPath>
<g clip-path="url(#c169_144)">
<path d="M169.6,206.5 C170.21,206.4 173.8,206.43 174.8,205.6 C175.8,204.77 177.49,201.71 178.2,199.4 C178.91,197.09 180.27,189.77 180.9,185.8 C181.53,181.83 183.07,169.37 183.6,165.4 C184.12,161.43 184.92,152.59 185.4,151.8 C185.88,151.01 187.12,156.06 187.7,158.6 C188.28,161.14 189.77,170.58 190.4,173.6 C191.03,176.62 192.31,182.28 193.1,184.5 C193.89,186.72 196.24,191.09 197.2,192.6 C198.16,194.1 200.43,196.92 201.3,197.4 C202.18,197.88 204.07,196.94 204.7,196.7 C205.33,196.45 206.22,196.57 206.7,195.3 C207.18,194.03 208.36,188.33 208.8,185.8 C209.24,183.27 210.1,173.91 210.5,173.6 C210.9,173.28 211.77,180.09 212.2,183.1 C212.63,186.11 213.8,196.78 214.2,199.4 C214.6,202.03 213.59,204.77 215.6,205.6 C217.61,206.43 229.56,206.4 231.4,206.5 Z" fill="#cbcad0" stroke="#b4b4b8" stroke-width="0.4"/>
<path d="M169.6,206.2 C170.21,206.12 173.91,205.98 174.8,205.5 C175.69,205.02 176.62,203.56 177.2,202.1 C177.78,200.64 179.26,195.64 179.8,193 C180.34,190.36 181.33,183.12 181.8,179.5 C182.27,175.88 183.38,165.47 183.8,162 C184.22,158.53 185,150.56 185.4,149.8 C185.8,149.04 186.74,153.55 187.2,155.5 C187.66,157.45 188.81,163.93 189.3,166.5 C189.79,169.07 190.92,175.11 191.4,177.5 C191.88,179.89 192.92,185.43 193.4,187 C193.88,188.57 195.02,190.07 195.5,191 C195.98,191.93 197.02,194.24 197.5,195 C197.98,195.76 199.07,197.06 199.6,197.5 C200.12,197.94 201.49,198.86 202,198.8 C202.51,198.74 203.45,197.38 204,197 C204.55,196.62 206.16,196.55 206.7,195.5 C207.24,194.45 208.23,190.04 208.6,188 C208.97,185.96 209.64,179.76 209.9,178 C210.16,176.24 210.57,172.67 210.8,172.9 C211.03,173.13 211.61,177.31 211.9,180 C212.19,182.69 212.94,193.14 213.3,196 C213.66,198.86 214.57,203.39 215,204.5 C215.43,205.61 215.09,205.3 217,205.5 C218.91,205.7 229.72,206.12 231.4,206.2" fill="none" stroke="#7cc052" stroke-width="1.2" stroke-linejoin="round"/>
<path d="M169.6,206.2 C170.12,206.12 173.26,205.98 174.1,205.5 C174.94,205.02 176.17,203.6 176.8,202.1 C177.43,200.59 178.94,195.29 179.5,192.6 C180.06,189.91 181.12,182.65 181.6,179 C182.08,175.35 183.16,164.71 183.6,161.3 C184.04,157.89 185,150.59 185.4,149.8 C185.8,149.01 186.58,152.68 187,154.5 C187.42,156.32 188.52,162.86 189,165.4 C189.48,167.94 190.62,173.92 191.1,176.3 C191.58,178.68 192.62,184.21 193.1,185.8 C193.58,187.39 194.72,188.94 195.2,189.9 C195.68,190.86 196.72,193.21 197.2,194 C197.68,194.79 198.74,196.22 199.3,196.7 C199.86,197.18 201.45,198.18 202,198.1 C202.55,198.02 203.58,196.56 204,196 C204.42,195.44 205.28,193.45 205.6,193.3 C205.91,193.15 206.41,194.73 206.7,194.7 C206.99,194.66 207.76,194.48 208.1,193 C208.44,191.52 209.28,184.1 209.6,182 C209.91,179.9 210.52,174.77 210.8,175 C211.08,175.23 211.7,181.32 212,184 C212.3,186.68 212.99,195.51 213.4,198 C213.81,200.49 213.4,204.34 215.5,205.3 C217.6,206.26 229.55,206.09 231.4,206.2" fill="none" stroke="#3a5a96" stroke-width="1.2" stroke-linejoin="round"/>
<path d="M169.6,206.2 C169.96,206.13 171.7,205.91 172.7,205.6 C173.7,205.28 177.09,204.22 178.2,203.5 C179.31,202.78 181.41,200.28 182.2,199.4 C182.99,198.53 184.39,196.5 185,196 C185.61,195.5 186.85,195.02 187.4,195.1 C187.95,195.18 189.12,196.23 189.7,196.7 C190.28,197.17 191.68,198.62 192.4,199.1 C193.12,199.58 195.09,200.52 195.9,200.8 C196.71,201.08 198.59,201.58 199.3,201.5 C200.01,201.42 201.45,200.43 202,200.1 C202.55,199.77 203.52,199.18 204,198.7 C204.48,198.22 205.7,197.03 206.1,196 C206.5,194.97 207.09,192.68 207.4,189.9 C207.72,187.12 208.49,176.48 208.8,172.2 C209.12,167.92 209.87,155.81 210.1,153.2 C210.33,150.59 210.62,149.8 210.8,149.8 C210.98,149.8 211.35,150.59 211.6,153.2 C211.84,155.81 212.59,167.29 212.9,172.2 C213.22,177.11 213.93,191.57 214.3,195.3 C214.67,199.03 215.55,203 216.1,204.2 C216.65,205.4 217.22,205.37 219,205.6 C220.78,205.83 229.95,206.13 231.4,206.2" fill="none" stroke="#c4254a" stroke-width="1.2" stroke-linejoin="round"/>
</g>
<rect x="169.6" y="144.75" width="61.8" height="61.75" rx="1" fill="none" stroke="#3a3a3a" stroke-width="1.4"/>
<clipPath id="c236_144"><rect x="236.5" y="144.75" width="61.6" height="61.75"/></clipPath>
<g clip-path="url(#c236_144)">
<path d="M236.5,206.5 C237.04,206.4 240.17,206.43 241.1,205.6 C242.03,204.77 243.79,201.71 244.5,199.4 C245.21,197.09 246.57,190.08 247.2,185.8 C247.83,181.52 249.38,166.67 249.9,162.7 C250.43,158.73 251.22,152.12 251.7,151.8 C252.18,151.49 253.42,157.62 254,160 C254.58,162.38 255.99,169.34 256.7,172.2 C257.41,175.06 259.23,182.27 260.1,184.5 C260.98,186.73 263.24,190.04 264.2,191.3 C265.16,192.56 267.34,194.83 268.3,195.3 C269.26,195.77 271.61,196.41 272.4,195.3 C273.19,194.19 274.55,188.81 275.1,185.8 C275.65,182.79 276.62,169.65 277.1,169.5 C277.58,169.35 278.72,180.7 279.2,184.5 C279.68,188.3 280.8,199.64 281.2,202.1 C281.6,204.56 280.63,205.09 282.6,205.6 C284.57,206.11 296.29,206.4 298.1,206.5 Z" fill="#cbcad0" stroke="#b4b4b8" stroke-width="0.4"/>
<path d="M236.5,206.2 C237.03,206.12 240.17,205.98 241,205.5 C241.83,205.02 242.99,203.76 243.6,202.1 C244.21,200.44 245.66,194.31 246.2,191.3 C246.74,188.29 247.74,180.12 248.2,176.3 C248.66,172.49 249.69,161.69 250.1,158.6 C250.51,155.51 251.3,150.34 251.7,149.8 C252.1,149.26 253.02,152.34 253.5,154 C253.98,155.66 255.3,161.67 255.8,164 C256.3,166.33 257.33,171.72 257.8,174 C258.27,176.28 259.32,181.63 259.8,183.5 C260.28,185.37 261.35,188.72 261.9,190 C262.45,191.28 263.88,193.66 264.5,194.5 C265.12,195.34 266.57,196.85 267.2,197.2 C267.83,197.55 269.34,197.64 269.9,197.5 C270.46,197.36 271.55,196.47 272,196 C272.45,195.53 273.38,194.9 273.8,193.5 C274.22,192.1 275.17,187.04 275.6,184 C276.03,180.96 277.1,167.63 277.5,167.4 C277.9,167.17 278.64,178.31 279,182 C279.36,185.69 280.16,196.26 280.6,199 C281.04,201.74 280.76,204.66 282.8,205.5 C284.84,206.34 296.31,206.12 298.1,206.2" fill="none" stroke="#7cc052" stroke-width="1.2" stroke-linejoin="round"/>
<path d="M236.5,206.2 C236.96,206.12 239.63,205.98 240.4,205.5 C241.17,205.02 242.47,203.76 243.1,202.1 C243.73,200.44 245.24,194.31 245.8,191.3 C246.36,188.29 247.42,180.12 247.9,176.3 C248.38,172.49 249.46,161.69 249.9,158.6 C250.34,155.51 251.3,150.43 251.7,149.8 C252.1,149.17 252.87,151.69 253.3,153.2 C253.73,154.7 254.92,160.48 255.4,162.7 C255.88,164.92 256.93,169.98 257.4,172.2 C257.87,174.42 258.92,179.8 259.4,181.7 C259.88,183.6 260.94,187.15 261.5,188.5 C262.06,189.85 263.57,192.43 264.2,193.3 C264.83,194.18 266.26,195.6 266.9,196 C267.54,196.4 269.14,196.78 269.7,196.7 C270.26,196.62 271.3,195.7 271.7,195.3 C272.1,194.9 272.79,193.45 273.1,193.3 C273.42,193.15 274.08,194.85 274.4,194 C274.71,193.15 275.46,188.22 275.8,186 C276.14,183.78 276.95,175 277.3,175 C277.65,175 278.44,182.97 278.8,186 C279.16,189.03 279.96,198.72 280.4,201 C280.84,203.28 280.54,204.89 282.6,205.5 C284.67,206.11 296.29,206.12 298.1,206.2" fill="none" stroke="#3a5a96" stroke-width="1.2" stroke-linejoin="round"/>
<path d="M236.5,206.2 C236.87,206.13 238.85,205.91 239.7,205.6 C240.55,205.28 242.93,204.38 243.8,203.5 C244.68,202.62 246.49,199.69 247.2,198.1 C247.91,196.51 249.27,191.25 249.9,189.9 C250.53,188.55 252.04,186.66 252.6,186.5 C253.16,186.34 254.14,187.71 254.7,188.5 C255.26,189.29 256.69,192.26 257.4,193.3 C258.11,194.34 260.01,196.72 260.8,197.4 C261.59,198.08 263.41,198.78 264.2,199.1 C264.99,199.41 266.89,200.06 267.6,200.1 C268.31,200.13 269.72,199.8 270.3,199.4 C270.88,199 272.12,197.97 272.6,196.7 C273.08,195.43 274.03,191.36 274.4,188.5 C274.77,185.64 275.51,176 275.8,172.2 C276.09,168.4 276.7,158.36 276.9,155.9 C277.1,153.44 277.34,151.1 277.5,151.1 C277.66,151.1 278.04,153.12 278.3,155.9 C278.56,158.68 279.37,170.14 279.7,174.9 C280.03,179.66 280.68,193.2 281.1,196.7 C281.52,200.2 282.73,203.86 283.3,204.9 C283.87,205.94 284.27,205.45 286,205.6 C287.73,205.75 296.69,206.13 298.1,206.2" fill="none" stroke="#c4254a" stroke-width="1.2" stroke-linejoin="round"/>
</g>
<rect x="236.5" y="144.75" width="61.6" height="61.75" rx="1" fill="none" stroke="#3a3a3a" stroke-width="1.4"/>
<clipPath id="c36_373"><rect x="36.5" y="373.4" width="62.4" height="62.2"/></clipPath>
<g clip-path="url(#c36_373)">
<path d="M36.5,435.6 C38.45,435.58 50.93,436.64 53.2,435.4 C55.48,434.16 55.38,428.55 56,425 C56.62,421.45 57.98,409.67 58.5,405 C59.02,400.33 60.09,387.98 60.5,385 C60.91,382.02 61.67,379.15 62,379.5 C62.33,379.85 62.98,386.43 63.3,388 C63.61,389.57 64.27,391.52 64.7,393 C65.13,394.48 66.5,398.72 67,400.7 C67.5,402.68 68.53,408.21 69,410 C69.47,411.79 70.42,415.01 71,416 C71.58,416.99 73.3,418.85 74,418.5 C74.7,418.15 76.42,413.99 77,413 C77.58,412.01 78.56,410.52 79,410 C79.44,409.48 80.41,408.27 80.8,408.5 C81.19,408.73 81.93,410.07 82.3,412 C82.67,413.93 83.63,422.27 84,425 C84.37,427.73 83.76,434.16 85.5,435.4 C87.24,436.64 97.34,435.58 98.9,435.6 Z" fill="#cbcad0" stroke="#b4b4b8" stroke-width="0.4"/>
<path d="M36.5,435.3 C38.72,435.15 53.05,435.2 55.5,434 C57.95,432.8 57.03,428.38 57.5,425 C57.97,421.62 59.12,409.08 59.5,405 C59.88,400.92 60.55,392.38 60.8,390 C61.04,387.62 61.34,384.95 61.6,384.6 C61.86,384.25 62.64,386.37 63,387 C63.36,387.63 64.31,388.76 64.7,390 C65.09,391.24 65.82,395.99 66.3,397.6 C66.78,399.21 68.25,402.53 68.8,403.8 C69.35,405.07 70.58,407.69 71,408.5 C71.42,409.31 72.05,410.7 72.4,410.7 C72.75,410.7 73.64,409.05 74,408.5 C74.36,407.95 75.09,406.52 75.5,406 C75.91,405.48 77.15,404.62 77.5,404 C77.85,403.38 78.23,402.45 78.5,400.7 C78.77,398.95 79.48,391.24 79.8,389 C80.11,386.76 80.89,382.08 81.2,381.5 C81.52,380.92 82.21,381.73 82.5,384 C82.79,386.27 83.41,396.22 83.7,401 C83.99,405.78 84.64,421.01 85,425 C85.36,428.99 85.18,434 86.8,435.2 C88.42,436.4 97.49,435.29 98.9,435.3" fill="none" stroke="#7cc052" stroke-width="1.2" stroke-linejoin="round"/>
<path d="M36.5,435.3 C38.54,435.29 51.73,435.94 54,435.2 C56.27,434.46 55.53,430.77 56,429 C56.47,427.23 57.59,421.98 58,420 C58.41,418.02 59.16,413.53 59.5,412 C59.84,410.47 60.55,407.6 60.9,406.9 C61.25,406.2 62.14,406.27 62.5,406 C62.86,405.73 63.65,404.6 64,404.6 C64.35,404.6 65.09,405.6 65.5,406 C65.91,406.4 66.87,407.18 67.5,408 C68.13,408.82 70.2,412.12 70.9,413 C71.6,413.88 72.91,415.73 73.5,415.5 C74.09,415.27 75.44,412.01 76,411 C76.56,409.99 77.87,408.67 78.3,406.8 C78.73,404.93 79.36,397.5 79.7,395 C80.04,392.5 80.87,385.98 81.2,385.4 C81.53,384.82 82.21,387.71 82.5,390 C82.79,392.29 83.41,400.92 83.7,405 C83.99,409.08 84.64,421.48 85,425 C85.36,428.52 85.18,434 86.8,435.2 C88.42,436.4 97.49,435.29 98.9,435.3" fill="none" stroke="#3a5a96" stroke-width="1.2" stroke-linejoin="round"/>
<path d="M36.5,435.3 C38.35,435.31 50.24,435.49 52.4,435.4 C54.56,435.31 54.28,434.97 55,434.5 C55.72,434.03 57.84,432.27 58.6,431.4 C59.36,430.52 60.96,427.92 61.5,427 C62.04,426.08 62.73,424.41 63.2,423.5 C63.67,422.59 65,419.38 65.5,419.2 C66,419.02 66.92,421.58 67.5,422 C68.08,422.42 69.74,422.51 70.5,422.8 C71.26,423.09 73.3,424.65 74,424.5 C74.7,424.35 75.97,422.49 76.5,421.5 C77.03,420.51 78.11,417.93 78.5,416 C78.89,414.07 79.52,408.5 79.8,405 C80.08,401.5 80.68,388.54 80.9,386 C81.12,383.46 81.48,382.97 81.7,383.2 C81.92,383.43 82.53,385.46 82.8,388 C83.07,390.54 83.69,400.68 84,405 C84.31,409.32 85.15,421.56 85.5,425 C85.85,428.44 86.47,433.29 87,434.5 C87.53,435.71 88.61,435.31 90,435.4 C91.39,435.49 97.86,435.31 98.9,435.3" fill="none" stroke="#c4254a" stroke-width="1.2" stroke-linejoin="round"/>
</g>
<rect x="36.5" y="373.4" width="62.4" height="62.2" rx="1" fill="none" stroke="#3a3a3a" stroke-width="1.4"/>
<clipPath id="c103_373"><rect x="103" y="373.4" width="62.8" height="62.2"/></clipPath>
<g clip-path="url(#c103_373)">
<path d="M103,435.6 C104.92,435.58 117.22,436.64 119.5,435.4 C121.78,434.16 121.86,428.55 122.5,425 C123.14,421.45 124.47,409.55 125,405 C125.53,400.45 126.6,388.92 127,386 C127.4,383.08 128.05,380 128.4,380 C128.75,380 129.58,384.25 130,386 C130.42,387.75 131.43,392.39 132,395 C132.57,397.61 134.2,405.76 134.9,408.4 C135.6,411.04 137.29,416.36 138,417.6 C138.71,418.84 140.24,419.19 141,419 C141.76,418.81 143.86,417.05 144.5,416 C145.14,414.95 146.1,411.06 146.5,410 C146.9,408.94 147.55,406.67 147.9,406.9 C148.25,407.13 149.08,409.54 149.5,412 C149.92,414.46 151.06,425.27 151.5,428 C151.94,430.73 151.63,434.51 153.3,435.4 C154.97,436.29 164.34,435.58 165.8,435.6 Z" fill="#cbcad0" stroke="#b4b4b8" stroke-width="0.4"/>
<path d="M103,435.3 C104.92,435.29 117.4,435.82 119.5,435.2 C121.6,434.58 120.47,432.24 121,430 C121.53,427.76 123.36,420.32 124,416 C124.64,411.68 125.99,397.08 126.5,393 C127.01,388.92 127.97,381.58 128.4,381 C128.83,380.42 129.63,385.67 130.2,388 C130.77,390.33 132.67,398.43 133.3,401 C133.93,403.57 135.06,409.14 135.6,410 C136.14,410.86 137.33,407.88 137.9,408.4 C138.47,408.92 139.85,414.31 140.5,414.5 C141.15,414.69 142.97,410.52 143.5,410 C144.03,409.48 144.59,410.35 145,410 C145.41,409.65 146.6,407.52 147,407 C147.4,406.48 148.03,404.57 148.4,405.5 C148.77,406.43 149.72,411.54 150.2,415 C150.68,418.46 150.68,432.83 152.5,435.2 C154.32,437.57 164.25,435.29 165.8,435.3" fill="none" stroke="#7cc052" stroke-width="1.2" stroke-linejoin="round"/>
<path d="M103,435.3 C104.92,435.29 117.4,435.82 119.5,435.2 C121.6,434.58 120.47,432.24 121,430 C121.53,427.76 123.36,420.32 124,416 C124.64,411.68 125.99,397.26 126.5,393 C127.01,388.74 127.97,380.2 128.4,379.5 C128.83,378.8 129.63,384.53 130.2,387 C130.77,389.47 132.67,398.02 133.3,400.7 C133.93,403.38 135.1,407.84 135.6,410 C136.1,412.16 137.14,418.31 137.6,419.2 C138.06,420.09 138.93,417.76 139.5,417.6 C140.07,417.44 141.88,418.16 142.5,417.8 C143.12,417.44 144.28,415.82 144.8,414.5 C145.33,413.18 146.58,407.65 147,406.5 C147.42,405.35 148.03,403.61 148.4,404.6 C148.77,405.59 149.72,411.43 150.2,415 C150.68,418.57 150.68,432.83 152.5,435.2 C154.32,437.57 164.25,435.29 165.8,435.3" fill="none" stroke="#3a5a96" stroke-width="1.2" stroke-linejoin="round"/>
<path d="M103,435.3 C105.1,435.29 118.49,436 121,435.2 C123.51,434.39 123.62,429.73 124.5,428.4 C125.38,427.07 127.74,424.9 128.5,423.8 C129.26,422.7 130.47,419.91 131,419 C131.53,418.09 132.54,415.98 133,416 C133.46,416.02 134.49,418.29 134.9,419.2 C135.31,420.11 136.08,423.42 136.5,423.8 C136.92,424.19 137.97,422.42 138.5,422.5 C139.03,422.58 140.44,424.71 141,424.5 C141.56,424.29 142.76,422.58 143.3,420.7 C143.84,418.82 145.15,411.44 145.6,408.4 C146.05,405.35 146.84,397.5 147.2,394.6 C147.56,391.7 148.35,383.5 148.7,383.5 C149.05,383.5 149.84,390.81 150.2,394.6 C150.56,398.39 151.42,411.26 151.8,416 C152.19,420.74 151.87,432.95 153.5,435.2 C155.13,437.45 164.37,435.29 165.8,435.3" fill="none" stroke="#c4254a" stroke-width="1.2" stroke-linejoin="round"/>
</g>
<rect x="103" y="373.4" width="62.8" height="62.2" rx="1" fill="none" stroke="#3a3a3a" stroke-width="1.4"/>
<clipPath id="c169_373"><rect x="169.9" y="373.4" width="62.6" height="62.2"/></clipPath>
<g clip-path="url(#c169_373)">
<path d="M169.9,435.6 C171.85,435.58 184.37,436.64 186.6,435.4 C188.83,434.16 188.43,428.55 189,425 C189.57,421.45 191,409.55 191.5,405 C192,400.45 192.93,388.82 193.3,386 C193.67,383.18 194.36,380.57 194.7,380.8 C195.04,381.03 195.81,386.17 196.2,388 C196.58,389.83 197.51,394.48 198,396.5 C198.49,398.52 199.76,403.2 200.4,405.3 C201.04,407.4 202.61,412.53 203.5,414.5 C204.39,416.47 207.12,422.02 208,422.2 C208.88,422.38 210.36,417.61 211,416 C211.64,414.39 213.03,409.45 213.5,408.4 C213.97,407.35 214.65,406.58 215,407 C215.35,407.42 216.09,409.55 216.5,412 C216.91,414.45 218.14,425.27 218.5,428 C218.86,430.73 217.97,434.51 219.6,435.4 C221.23,436.29 231,435.58 232.5,435.6 Z" fill="#cbcad0" stroke="#b4b4b8" stroke-width="0.4"/>
<path d="M169.9,435.3 C171.85,435.29 184.43,436.05 186.6,435.2 C188.77,434.35 188.04,430.71 188.5,428 C188.96,425.29 190.03,416.08 190.5,412 C190.97,407.92 192.01,396.86 192.5,393 C192.99,389.14 194.22,379.61 194.7,378.9 C195.18,378.19 196.11,384.72 196.6,386.9 C197.09,389.08 198.36,395.45 198.9,397.6 C199.44,399.75 200.66,403.68 201.2,405.3 C201.74,406.92 202.88,410.43 203.5,411.5 C204.12,412.57 205.79,414.5 206.5,414.5 C207.21,414.5 208.97,412.57 209.6,411.5 C210.23,410.43 211.44,407.46 211.9,405.3 C212.36,403.14 213.2,395.15 213.5,393 C213.8,390.85 214.21,386.67 214.5,386.9 C214.79,387.13 215.65,391.72 216,395 C216.35,398.28 217.09,410.31 217.5,415 C217.91,419.69 217.75,432.83 219.5,435.2 C221.25,437.57 230.98,435.29 232.5,435.3" fill="none" stroke="#7cc052" stroke-width="1.2" stroke-linejoin="round"/>
<path d="M169.9,435.3 C171.85,435.29 184.43,436.05 186.6,435.2 C188.77,434.35 188.04,430.94 188.5,428 C188.96,425.06 190.01,414.53 190.5,410 C190.99,405.47 192.21,391.72 192.7,389.2 C193.19,386.68 194.16,388.13 194.7,388.4 C195.24,388.67 196.73,390.24 197.3,391.5 C197.87,392.76 199.06,398.13 199.6,399.2 C200.14,400.27 201.27,399.8 201.9,400.7 C202.53,401.6 204.46,405.81 205,406.9 C205.54,407.98 206.15,409.29 206.5,410 C206.85,410.71 207.54,412.92 208,413 C208.46,413.08 209.85,412.68 210.4,410.7 C210.95,408.72 212.2,399.94 212.7,396 C213.2,392.06 214.23,376.9 214.7,376.9 C215.17,376.9 216.26,390.97 216.7,396 C217.14,401.03 218.04,415.43 218.5,420 C218.96,424.57 218.97,433.41 220.6,435.2 C222.23,436.99 231.11,435.29 232.5,435.3" fill="none" stroke="#3a5a96" stroke-width="1.2" stroke-linejoin="round"/>
<path d="M169.9,435.3 C171.9,435.29 184.77,435.47 187,435.2 C189.23,434.93 188.42,434.15 189,433 C189.58,431.85 191.38,427.28 192,425.3 C192.62,423.32 193.82,417.7 194.3,416 C194.78,414.3 195.66,410.88 196.1,410.7 C196.54,410.52 197.6,413.88 198.1,414.5 C198.6,415.12 199.86,415.45 200.4,416 C200.94,416.55 201.99,418.83 202.7,419.2 C203.41,419.57 205.79,419.02 206.5,419.2 C207.21,419.38 208.25,421.07 208.8,420.7 C209.35,420.33 210.71,418.33 211.2,416 C211.69,413.67 212.59,405.09 213,400.7 C213.41,396.31 214.29,378.4 214.7,378.4 C215.11,378.4 216.06,394.52 216.5,400.7 C216.94,406.88 218.08,427.38 218.5,431.4 C218.92,435.42 219.57,434.73 220.1,435.2 C220.62,435.67 221.55,435.39 223,435.4 C224.45,435.41 231.39,435.31 232.5,435.3" fill="none" stroke="#c4254a" stroke-width="1.2" stroke-linejoin="round"/>
</g>
<rect x="169.9" y="373.4" width="62.6" height="62.2" rx="1" fill="none" stroke="#3a3a3a" stroke-width="1.4"/>
<clipPath id="c236_373"><rect x="236.5" y="373.4" width="62.7" height="62.2"/></clipPath>
<g clip-path="url(#c236_373)">
<path d="M236.5,435.6 C238.61,435.58 252.21,436.64 254.6,435.4 C256.99,434.16 256.43,428.55 257,425 C257.57,421.45 258.98,408.73 259.5,405 C260.02,401.27 261.17,394.57 261.5,393 C261.83,391.43 262.07,391.15 262.3,391.5 C262.53,391.85 262.96,394.39 263.5,396 C264.04,397.61 265.97,403.14 266.9,405.3 C267.83,407.46 270.52,412.44 271.5,414.5 C272.48,416.56 274.41,422.45 275.3,423 C276.19,423.55 278.39,420.9 279.1,419.2 C279.81,417.5 280.94,410.02 281.4,408.4 C281.85,406.78 282.64,404.88 283,405.3 C283.36,405.72 284.15,408.49 284.5,412 C284.85,415.51 284.29,432.65 286,435.4 C287.71,438.15 297.66,435.58 299.2,435.6 Z" fill="#cbcad0" stroke="#b4b4b8" stroke-width="0.4"/>
<path d="M236.5,435.3 C238.48,435.29 251.22,436.05 253.5,435.2 C255.78,434.35 255.42,430.94 256,428 C256.58,425.06 257.92,414.43 258.5,410 C259.08,405.57 260.56,393.23 261,390 C261.44,386.77 261.88,382.07 262.3,382.3 C262.72,382.53 264.06,389.94 264.6,392 C265.14,394.06 266.27,398.09 266.9,400 C267.53,401.91 269.19,406.65 270,408.4 C270.81,410.15 273.09,414.46 273.8,415 C274.51,415.54 275.47,413.82 276.1,413 C276.73,412.18 278.65,410.33 279.2,408 C279.75,405.67 280.49,396.22 280.8,393 C281.12,389.78 281.64,380.75 281.9,380.4 C282.16,380.05 282.7,385.96 283,390 C283.3,394.04 284.09,409.73 284.5,415 C284.91,420.27 284.79,432.83 286.5,435.2 C288.21,437.57 297.72,435.29 299.2,435.3" fill="none" stroke="#7cc052" stroke-width="1.2" stroke-linejoin="round"/>
<path d="M236.5,435.3 C238.48,435.29 251.22,436.05 253.5,435.2 C255.78,434.35 255.42,430.94 256,428 C256.58,425.06 257.92,415.02 258.5,410 C259.08,404.98 260.56,388.86 261,385 C261.44,381.14 261.88,376.32 262.3,376.9 C262.72,377.48 264.06,387.4 264.6,390 C265.14,392.6 266.27,396.87 266.9,399.2 C267.53,401.53 269.19,407.67 270,410 C270.81,412.33 273.09,418.68 273.8,419.2 C274.51,419.72 275.47,415.57 276.1,414.5 C276.73,413.43 278.61,412.51 279.2,410 C279.79,407.49 280.88,395.33 281.2,393 C281.51,390.67 281.69,389.65 281.9,390 C282.11,390.35 282.7,392.73 283,396 C283.3,399.27 284.09,413.43 284.5,418 C284.91,422.57 284.79,433.18 286.5,435.2 C288.21,437.22 297.72,435.29 299.2,435.3" fill="none" stroke="#3a5a96" stroke-width="1.2" stroke-linejoin="round"/>
<path d="M236.5,435.3 C238.37,435.29 250.34,436.05 252.5,435.2 C254.66,434.35 254.36,430.94 255,428 C255.64,425.06 257.35,414.43 258,410 C258.65,405.57 260.05,393.32 260.6,390 C261.15,386.68 262.15,381.69 262.7,381.5 C263.25,381.31 264.73,386.52 265.3,388.4 C265.87,390.28 267.05,395.44 267.6,397.6 C268.15,399.76 269.37,404.93 270,406.9 C270.63,408.87 272.38,413.69 273,414.5 C273.62,415.31 274.67,413.98 275.3,413.8 C275.93,413.62 277.77,415.43 278.4,413 C279.03,410.57 280.29,396.5 280.7,393 C281.11,389.5 281.57,383 281.9,383 C282.23,383 283.16,389.27 283.5,393 C283.84,396.73 284.45,410.15 284.8,415 C285.15,419.85 285.89,432.22 286.5,434.6 C287.11,436.98 288.52,435.32 290,435.4 C291.48,435.48 298.13,435.31 299.2,435.3" fill="none" stroke="#c4254a" stroke-width="1.2" stroke-linejoin="round"/>
</g>
<rect x="236.5" y="373.4" width="62.7" height="62.2" rx="1" fill="none" stroke="#3a3a3a" stroke-width="1.4"/>
<text x="0" y="0" font-size="10.8" fill="#1a1a1a" stroke="#1a1a1a" stroke-width="0.3" textLength="26.1" lengthAdjust="spacingAndGlyphs" transform="translate(33.1,185.7) rotate(-90)">#events</text>
<path d="M30.4,206.3 V193.5" stroke="#111" stroke-width="1"/>
<path d="M28.3,195.8 L30.4,191 L32.5,195.8 Z" fill="#111"/>
<path d="M36.1,213.5 H49.5" stroke="#111" stroke-width="1"/>
<path d="M48.4,211.4 L53,213.5 L48.4,215.6 Z" fill="#111"/>
<text x="56.8" y="216.5" font-size="10.4" fill="#1a1a1a" text-anchor="start" font-weight="normal" textLength="16.8" lengthAdjust="spacingAndGlyphs" stroke="#1a1a1a" stroke-width="0.3">CFSE</text>
<text x="0" y="0" font-size="10.8" fill="#1a1a1a" stroke="#1a1a1a" stroke-width="0.3" textLength="26.1" lengthAdjust="spacingAndGlyphs" transform="translate(33.1,414.6) rotate(-90)">#events</text>
<path d="M30.4,435.2 V422.4" stroke="#111" stroke-width="1"/>
<path d="M28.3,424.7 L30.4,419.9 L32.5,424.7 Z" fill="#111"/>
<path d="M36.1,442.4 H49.5" stroke="#111" stroke-width="1"/>
<path d="M48.4,440.3 L53,442.4 L48.4,444.5 Z" fill="#111"/>
<text x="56.8" y="445.4" font-size="10.4" fill="#1a1a1a" text-anchor="start" font-weight="normal" textLength="16.8" lengthAdjust="spacingAndGlyphs" stroke="#1a1a1a" stroke-width="0.3">CFSE</text>
<path d="M363.4,72.8 V178.6 H466.5" fill="none" stroke="#111" stroke-width="1.3"/>
<line x1="360.2" y1="178.6" x2="363.4" y2="178.6" stroke="#111" stroke-width="1.3"/>
<text x="356.1" y="181.5" font-size="8.4" fill="#1a1a1a" text-anchor="end" font-weight="normal" >0</text>
<line x1="360.2" y1="158.09" x2="363.4" y2="158.09" stroke="#111" stroke-width="1.3"/>
<text x="356.1" y="160.99" font-size="8.4" fill="#1a1a1a" text-anchor="end" font-weight="normal" >25</text>
<line x1="360.2" y1="137.58" x2="363.4" y2="137.58" stroke="#111" stroke-width="1.3"/>
<text x="356.1" y="140.48" font-size="8.4" fill="#1a1a1a" text-anchor="end" font-weight="normal" >50</text>
<line x1="360.2" y1="117.07" x2="363.4" y2="117.07" stroke="#111" stroke-width="1.3"/>
<text x="356.1" y="119.97" font-size="8.4" fill="#1a1a1a" text-anchor="end" font-weight="normal" >75</text>
<line x1="360.2" y1="96.56" x2="363.4" y2="96.56" stroke="#111" stroke-width="1.3"/>
<text x="356.1" y="99.46" font-size="8.4" fill="#1a1a1a" text-anchor="end" font-weight="normal" >100</text>
<line x1="360.2" y1="76.05" x2="363.4" y2="76.05" stroke="#111" stroke-width="1.3"/>
<text x="356.1" y="78.95" font-size="8.4" fill="#1a1a1a" text-anchor="end" font-weight="normal" >125</text>
<line x1="369.5" y1="178.6" x2="369.5" y2="181.6" stroke="#111" stroke-width="1.2"/>
<line x1="382.47" y1="178.6" x2="382.47" y2="181.6" stroke="#111" stroke-width="1.2"/>
<line x1="395.44" y1="178.6" x2="395.44" y2="181.6" stroke="#111" stroke-width="1.2"/>
<line x1="408.41" y1="178.6" x2="408.41" y2="181.6" stroke="#111" stroke-width="1.2"/>
<line x1="421.38" y1="178.6" x2="421.38" y2="181.6" stroke="#111" stroke-width="1.2"/>
<line x1="434.35" y1="178.6" x2="434.35" y2="181.6" stroke="#111" stroke-width="1.2"/>
<line x1="447.32" y1="178.6" x2="447.32" y2="181.6" stroke="#111" stroke-width="1.2"/>
<line x1="460.29" y1="178.6" x2="460.29" y2="181.6" stroke="#111" stroke-width="1.2"/>
<text x="0" y="0" font-size="8.8" fill="#1a1a1a" text-anchor="end" transform="translate(372.9,188.8) rotate(-45)">1:1</text>
<text x="0" y="0" font-size="8.8" fill="#1a1a1a" text-anchor="end" transform="translate(385.87,188.8) rotate(-45)">1:2.5</text>
<text x="0" y="0" font-size="8.8" fill="#1a1a1a" text-anchor="end" transform="translate(398.84,188.8) rotate(-45)">1:5</text>
<text x="0" y="0" font-size="8.8" fill="#1a1a1a" text-anchor="end" transform="translate(411.81,188.8) rotate(-45)">1:10</text>
<text x="0" y="0" font-size="8.8" fill="#1a1a1a" text-anchor="end" transform="translate(424.78,188.8) rotate(-45)">1:20</text>
<text x="0" y="0" font-size="8.8" fill="#1a1a1a" text-anchor="end" transform="translate(437.75,188.8) rotate(-45)">1:40</text>
<text x="0" y="0" font-size="8.8" fill="#1a1a1a" text-anchor="end" transform="translate(450.72,188.8) rotate(-45)">1:80</text>
<text x="0" y="0" font-size="8.8" fill="#1a1a1a" text-anchor="end" transform="translate(463.69,188.8) rotate(-45)">0:1</text>
<path d="M369.5,163.83 L382.47,162.52 L395.44,155.87 L408.41,153.41 L421.38,141.68 L434.35,128.88 L447.32,114.2 L460.29,96.56" fill="none" stroke="#b0002a" stroke-width="1.15"/>
<path d="M369.5,139.38 L382.47,125.77 L395.44,108.62 L408.41,102.38 L421.38,96.72 L434.35,89.59 L447.32,97.46 L460.29,96.56" fill="none" stroke="#62b23c" stroke-width="1.15"/>
<path d="M369.5,143.32 L382.47,132.82 L395.44,115.27 L408.41,99.1 L421.38,92.38 L434.35,94.59 L447.32,90.82 L460.29,96.15" fill="none" stroke="#1f3d8a" stroke-width="1.1"/>
<line x1="363.4" y1="96.56" x2="466.5" y2="96.56" stroke="#333" stroke-width="1.35" stroke-dasharray="3.5,2.4"/>
<path d="M369.5,160.33 L373,167.33 L366,167.33 Z" fill="#b0002a"/>
<path d="M382.47,159.02 L385.97,166.02 L378.97,166.02 Z" fill="#b0002a"/>
<path d="M395.44,152.37 L398.94,159.37 L391.94,159.37 Z" fill="#b0002a"/>
<path d="M408.41,149.91 L411.91,156.91 L404.91,156.91 Z" fill="#b0002a"/>
<path d="M421.38,138.18 L424.88,145.18 L417.88,145.18 Z" fill="#b0002a"/>
<path d="M434.35,125.38 L437.85,132.38 L430.85,132.38 Z" fill="#b0002a"/>
<path d="M447.32,110.7 L450.82,117.7 L443.82,117.7 Z" fill="#b0002a"/>
<path d="M460.29,93.06 L463.79,100.06 L456.79,100.06 Z" fill="#b0002a"/>
<path d="M395.44,155.87 V161.54 M392.14,161.54 H398.74" stroke="#c23a5c" stroke-width="1.1" fill="none"/>
<path d="M408.41,153.41 V159.32 M405.11,159.32 H411.71" stroke="#c23a5c" stroke-width="1.1" fill="none"/>
<path d="M421.38,141.68 V148.41 M418.08,148.41 H424.68" stroke="#c23a5c" stroke-width="1.1" fill="none"/>
<path d="M434.35,128.88 V137.42 M431.05,137.42 H437.65" stroke="#c23a5c" stroke-width="1.1" fill="none"/>
<path d="M447.32,114.2 V119.37 M444.02,119.37 H450.62" stroke="#c23a5c" stroke-width="1.1" fill="none"/>
<rect x="366.21" y="136.09" width="6.58" height="6.58" fill="#5fb036"/>
<rect x="379.18" y="122.48" width="6.58" height="6.58" fill="#5fb036"/>
<rect x="392.15" y="105.33" width="6.58" height="6.58" fill="#5fb036"/>
<rect x="405.12" y="99.09" width="6.58" height="6.58" fill="#5fb036"/>
<rect x="418.09" y="93.43" width="6.58" height="6.58" fill="#5fb036"/>
<rect x="431.06" y="86.3" width="6.58" height="6.58" fill="#5fb036"/>
<rect x="444.03" y="94.17" width="6.58" height="6.58" fill="#5fb036"/>
<rect x="457" y="93.27" width="6.58" height="6.58" fill="#5fb036"/>
<path d="M369.5,139.38 V131.02 M366.2,131.02 H372.8" stroke="#6cb845" stroke-width="1.1" fill="none"/>
<path d="M382.47,125.77 V115.68 M379.17,115.68 H385.77" stroke="#6cb845" stroke-width="1.1" fill="none"/>
<path d="M395.44,108.62 V101.48 M392.14,101.48 H398.74" stroke="#6cb845" stroke-width="1.1" fill="none"/>
<path d="M434.35,89.59 V85.07 M431.05,85.07 H437.65" stroke="#6cb845" stroke-width="1.1" fill="none"/>
<path d="M369.5,146.47 L372.82,140.17 L366.18,140.17 Z" fill="#1f3d8a"/>
<path d="M382.47,135.97 L385.8,129.67 L379.15,129.67 Z" fill="#1f3d8a"/>
<path d="M395.44,118.42 L398.76,112.12 L392.12,112.12 Z" fill="#1f3d8a"/>
<path d="M408.41,102.25 L411.74,95.95 L405.09,95.95 Z" fill="#1f3d8a"/>
<path d="M421.38,95.53 L424.7,89.23 L418.06,89.23 Z" fill="#1f3d8a"/>
<path d="M434.35,97.74 L437.68,91.44 L431.03,91.44 Z" fill="#1f3d8a"/>
<path d="M447.32,93.97 L450.64,87.67 L444,87.67 Z" fill="#1f3d8a"/>
<path d="M460.29,99.3 L463.62,93 L456.97,93 Z" fill="#1f3d8a"/>
<path d="M369.5,143.32 V131.51 M366.2,131.51 H372.8" stroke="#4a64a8" stroke-width="1.1" fill="none"/>
<path d="M382.47,132.82 V118.79 M379.17,118.79 H385.77" stroke="#4a64a8" stroke-width="1.1" fill="none"/>
<path d="M395.44,115.27 V105.01 M392.14,105.01 H398.74" stroke="#4a64a8" stroke-width="1.1" fill="none"/>
<path d="M408.41,99.1 V89.91 M405.11,89.91 H411.71" stroke="#4a64a8" stroke-width="1.1" fill="none"/>
<path d="M421.38,92.38 V84.5 M418.08,84.5 H424.68" stroke="#4a64a8" stroke-width="1.1" fill="none"/>
<path d="M434.35,94.59 V84.5 M431.05,84.5 H437.65" stroke="#4a64a8" stroke-width="1.1" fill="none"/>
<path d="M447.32,90.82 V80.81 M444.02,80.81 H450.62" stroke="#4a64a8" stroke-width="1.1" fill="none"/>
<path d="M364.3,301.6 V407.7 H467.5" fill="none" stroke="#111" stroke-width="1.3"/>
<line x1="361.1" y1="407.7" x2="364.3" y2="407.7" stroke="#111" stroke-width="1.3"/>
<text x="357" y="410.6" font-size="8.4" fill="#1a1a1a" text-anchor="end" font-weight="normal" >0</text>
<line x1="361.1" y1="387.16" x2="364.3" y2="387.16" stroke="#111" stroke-width="1.3"/>
<text x="357" y="390.06" font-size="8.4" fill="#1a1a1a" text-anchor="end" font-weight="normal" >25</text>
<line x1="361.1" y1="366.62" x2="364.3" y2="366.62" stroke="#111" stroke-width="1.3"/>
<text x="357" y="369.52" font-size="8.4" fill="#1a1a1a" text-anchor="end" font-weight="normal" >50</text>
<line x1="361.1" y1="346.08" x2="364.3" y2="346.08" stroke="#111" stroke-width="1.3"/>
<text x="357" y="348.98" font-size="8.4" fill="#1a1a1a" text-anchor="end" font-weight="normal" >75</text>
<line x1="361.1" y1="325.54" x2="364.3" y2="325.54" stroke="#111" stroke-width="1.3"/>
<text x="357" y="328.44" font-size="8.4" fill="#1a1a1a" text-anchor="end" font-weight="normal" >100</text>
<line x1="361.1" y1="305" x2="364.3" y2="305" stroke="#111" stroke-width="1.3"/>
<text x="357" y="307.9" font-size="8.4" fill="#1a1a1a" text-anchor="end" font-weight="normal" >125</text>
<line x1="370.7" y1="407.7" x2="370.7" y2="410.7" stroke="#111" stroke-width="1.2"/>
<line x1="383.63" y1="407.7" x2="383.63" y2="410.7" stroke="#111" stroke-width="1.2"/>
<line x1="396.56" y1="407.7" x2="396.56" y2="410.7" stroke="#111" stroke-width="1.2"/>
<line x1="409.49" y1="407.7" x2="409.49" y2="410.7" stroke="#111" stroke-width="1.2"/>
<line x1="422.42" y1="407.7" x2="422.42" y2="410.7" stroke="#111" stroke-width="1.2"/>
<line x1="435.35" y1="407.7" x2="435.35" y2="410.7" stroke="#111" stroke-width="1.2"/>
<line x1="448.28" y1="407.7" x2="448.28" y2="410.7" stroke="#111" stroke-width="1.2"/>
<line x1="461.21" y1="407.7" x2="461.21" y2="410.7" stroke="#111" stroke-width="1.2"/>
<text x="0" y="0" font-size="8.8" fill="#1a1a1a" text-anchor="end" transform="translate(374.1,418.5) rotate(-45)">1:1</text>
<text x="0" y="0" font-size="8.8" fill="#1a1a1a" text-anchor="end" transform="translate(387.03,418.5) rotate(-45)">1:2.5</text>
<text x="0" y="0" font-size="8.8" fill="#1a1a1a" text-anchor="end" transform="translate(399.96,418.5) rotate(-45)">1:5</text>
<text x="0" y="0" font-size="8.8" fill="#1a1a1a" text-anchor="end" transform="translate(412.89,418.5) rotate(-45)">1:10</text>
<text x="0" y="0" font-size="8.8" fill="#1a1a1a" text-anchor="end" transform="translate(425.82,418.5) rotate(-45)">1:20</text>
<text x="0" y="0" font-size="8.8" fill="#1a1a1a" text-anchor="end" transform="translate(438.75,418.5) rotate(-45)">1:40</text>
<text x="0" y="0" font-size="8.8" fill="#1a1a1a" text-anchor="end" transform="translate(451.68,418.5) rotate(-45)">1:80</text>
<text x="0" y="0" font-size="8.8" fill="#1a1a1a" text-anchor="end" transform="translate(464.61,418.5) rotate(-45)">0:1</text>
<path d="M370.7,378.6 L383.63,373.68 L396.56,370.07 L409.49,368.02 L422.42,367.12 L435.35,349.97 L448.28,339.8 L461.21,325.36" fill="none" stroke="#b0002a" stroke-width="1.15"/>
<path d="M370.7,363.18 L383.63,350.46 L396.56,337.42 L409.49,342.67 L422.42,326.02 L435.35,326.02 L448.28,326.75 L461.21,325.36" fill="none" stroke="#62b23c" stroke-width="1.15"/>
<path d="M370.7,368.02 L383.63,355.3 L396.56,337.17 L409.49,331.51 L422.42,318.8 L435.35,322.82 L448.28,315.76 L461.21,325.44" fill="none" stroke="#1f3d8a" stroke-width="1.1"/>
<line x1="364.3" y1="325.54" x2="467.5" y2="325.54" stroke="#333" stroke-width="1.35" stroke-dasharray="3.5,2.4"/>
<path d="M370.7,375.1 L374.2,382.1 L367.2,382.1 Z" fill="#b0002a"/>
<path d="M383.63,370.18 L387.13,377.18 L380.13,377.18 Z" fill="#b0002a"/>
<path d="M396.56,366.57 L400.06,373.57 L393.06,373.57 Z" fill="#b0002a"/>
<path d="M409.49,364.52 L412.99,371.52 L405.99,371.52 Z" fill="#b0002a"/>
<path d="M422.42,363.62 L425.92,370.62 L418.92,370.62 Z" fill="#b0002a"/>
<path d="M435.35,346.47 L438.85,353.47 L431.85,353.47 Z" fill="#b0002a"/>
<path d="M448.28,336.3 L451.78,343.3 L444.78,343.3 Z" fill="#b0002a"/>
<path d="M461.21,321.86 L464.71,328.86 L457.71,328.86 Z" fill="#b0002a"/>
<path d="M370.7,378.6 V386.48 M367.4,386.48 H374" stroke="#c23a5c" stroke-width="1.1" fill="none"/>
<path d="M383.63,373.68 V383.36 M380.33,383.36 H386.93" stroke="#c23a5c" stroke-width="1.1" fill="none"/>
<path d="M396.56,370.07 V379.83 M393.26,379.83 H399.86" stroke="#c23a5c" stroke-width="1.1" fill="none"/>
<path d="M409.49,368.02 V377.21 M406.19,377.21 H412.79" stroke="#c23a5c" stroke-width="1.1" fill="none"/>
<path d="M422.42,367.12 V377.21 M419.12,377.21 H425.72" stroke="#c23a5c" stroke-width="1.1" fill="none"/>
<path d="M435.35,349.97 V362.52 M432.05,362.52 H438.65" stroke="#c23a5c" stroke-width="1.1" fill="none"/>
<path d="M448.28,339.8 V347.67 M444.98,347.67 H451.58" stroke="#c23a5c" stroke-width="1.1" fill="none"/>
<rect x="367.41" y="359.89" width="6.58" height="6.58" fill="#5fb036"/>
<rect x="380.34" y="347.17" width="6.58" height="6.58" fill="#5fb036"/>
<rect x="393.27" y="334.13" width="6.58" height="6.58" fill="#5fb036"/>
<rect x="406.2" y="339.38" width="6.58" height="6.58" fill="#5fb036"/>
<rect x="419.13" y="322.73" width="6.58" height="6.58" fill="#5fb036"/>
<rect x="432.06" y="322.73" width="6.58" height="6.58" fill="#5fb036"/>
<rect x="444.99" y="323.46" width="6.58" height="6.58" fill="#5fb036"/>
<rect x="457.92" y="322.07" width="6.58" height="6.58" fill="#5fb036"/>
<path d="M370.7,363.18 V352.68 M367.4,352.68 H374" stroke="#6cb845" stroke-width="1.1" fill="none"/>
<path d="M383.63,350.46 V341.44 M380.33,341.44 H386.93" stroke="#6cb845" stroke-width="1.1" fill="none"/>
<path d="M396.56,337.42 V323.8 M393.26,323.8 H399.86" stroke="#6cb845" stroke-width="1.1" fill="none"/>
<path d="M409.49,342.67 V331.1 M406.19,331.1 H412.79" stroke="#6cb845" stroke-width="1.1" fill="none"/>
<path d="M422.42,326.02 V315.02 M419.12,315.02 H425.72" stroke="#6cb845" stroke-width="1.1" fill="none"/>
<path d="M435.35,326.02 V315.1 M432.05,315.1 H438.65" stroke="#6cb845" stroke-width="1.1" fill="none"/>
<path d="M448.28,326.75 V318.8 M444.98,318.8 H451.58" stroke="#6cb845" stroke-width="1.1" fill="none"/>
<path d="M370.7,371.17 L374.02,364.87 L367.38,364.87 Z" fill="#1f3d8a"/>
<path d="M383.63,358.45 L386.95,352.15 L380.31,352.15 Z" fill="#1f3d8a"/>
<path d="M396.56,340.32 L399.88,334.02 L393.24,334.02 Z" fill="#1f3d8a"/>
<path d="M409.49,334.66 L412.81,328.36 L406.17,328.36 Z" fill="#1f3d8a"/>
<path d="M422.42,321.95 L425.74,315.65 L419.09,315.65 Z" fill="#1f3d8a"/>
<path d="M435.35,325.97 L438.68,319.67 L432.03,319.67 Z" fill="#1f3d8a"/>
<path d="M448.28,318.91 L451.6,312.61 L444.95,312.61 Z" fill="#1f3d8a"/>
<path d="M461.21,328.59 L464.53,322.29 L457.88,322.29 Z" fill="#1f3d8a"/>
<path d="M370.7,368.02 V364.49 M367.4,364.49 H374" stroke="#4a64a8" stroke-width="1.1" fill="none"/>
<path d="M383.63,355.3 V349.97 M380.33,349.97 H386.93" stroke="#4a64a8" stroke-width="1.1" fill="none"/>
<path d="M396.56,337.17 V331.02 M393.26,331.02 H399.86" stroke="#4a64a8" stroke-width="1.1" fill="none"/>
<path d="M409.49,331.51 V323.8 M406.19,323.8 H412.79" stroke="#4a64a8" stroke-width="1.1" fill="none"/>
<path d="M422.42,318.8 V316.83 M419.12,316.83 H425.72" stroke="#4a64a8" stroke-width="1.1" fill="none"/>
<path d="M435.35,322.82 V317.32 M432.05,317.32 H438.65" stroke="#4a64a8" stroke-width="1.1" fill="none"/>
<path d="M448.28,315.76 V305.01" stroke="#4a64a8" stroke-width="1.1" fill="none"/>
<line x1="363.2" y1="38.1" x2="380" y2="38.1" stroke="#cc4466" stroke-width="1.2"/>
<path d="M371.6,34.5 L375.2,41.7 L368,41.7 Z" fill="#b0002a"/>
<text x="383.2" y="40.8" font-size="8.2" fill="#111" text-anchor="start" font-weight="normal" textLength="89" lengthAdjust="spacingAndGlyphs" >A2-CAR CD8<tspan font-size="5.2" dy="-2.8">+</tspan><tspan dy="2.8">Tregs, n=8</tspan></text>
<line x1="363.2" y1="51.3" x2="380" y2="51.3" stroke="#78c055" stroke-width="1.2"/>
<rect x="368.22" y="47.92" width="6.77" height="6.77" fill="#5fb036"/>
<text x="383.2" y="54" font-size="8.2" fill="#111" text-anchor="start" font-weight="normal" textLength="70.2" lengthAdjust="spacingAndGlyphs" >NT CD8<tspan font-size="5.2" dy="-2.8">+</tspan><tspan dy="2.8">Tregs, n=8</tspan></text>
<line x1="363.2" y1="64.4" x2="380" y2="64.4" stroke="#5a74b0" stroke-width="1.2"/>
<path d="M371.6,67.64 L375.02,61.16 L368.18,61.16 Z" fill="#1f3d8a"/>
<text x="383.2" y="67.1" font-size="8.2" fill="#111" text-anchor="start" font-weight="normal" textLength="96.4" lengthAdjust="spacingAndGlyphs" >Her2-CAR CD8<tspan font-size="5.2" dy="-2.8">+</tspan><tspan dy="2.8">Tregs, n=6</tspan></text>
<line x1="364.3" y1="267.1" x2="381.1" y2="267.1" stroke="#cc4466" stroke-width="1.2"/>
<path d="M372.7,263.5 L376.3,270.7 L369.1,270.7 Z" fill="#b0002a"/>
<text x="384.3" y="269.8" font-size="8.2" fill="#111" text-anchor="start" font-weight="normal" textLength="89" lengthAdjust="spacingAndGlyphs" >A2-CAR CD8<tspan font-size="5.2" dy="-2.8">+</tspan><tspan dy="2.8">Tregs, n=7</tspan></text>
<line x1="364.3" y1="280.3" x2="381.1" y2="280.3" stroke="#78c055" stroke-width="1.2"/>
<rect x="369.32" y="276.92" width="6.77" height="6.77" fill="#5fb036"/>
<text x="384.3" y="283" font-size="8.2" fill="#111" text-anchor="start" font-weight="normal" textLength="70.2" lengthAdjust="spacingAndGlyphs" >NT CD8<tspan font-size="5.2" dy="-2.8">+</tspan><tspan dy="2.8">Tregs, n=7</tspan></text>
<line x1="364.3" y1="293.4" x2="381.1" y2="293.4" stroke="#5a74b0" stroke-width="1.2"/>
<path d="M372.7,296.64 L376.12,290.16 L369.28,290.16 Z" fill="#1f3d8a"/>
<text x="384.3" y="296.1" font-size="8.2" fill="#111" text-anchor="start" font-weight="normal" textLength="96.4" lengthAdjust="spacingAndGlyphs" >Her2-CAR CD8<tspan font-size="5.2" dy="-2.8">+</tspan><tspan dy="2.8">Tregs, n=6</tspan></text>
<path d="M483.3,31.2 V51.6 M493.4,31.2 V69.3" stroke="#111" stroke-width="1"/>
<circle cx="487.8" cy="38.3" r="1.0" fill="#111"/>
<circle cx="487.8" cy="41.2" r="1.0" fill="#111"/>
<circle cx="487.8" cy="44" r="1.0" fill="#111"/>
<circle cx="498" cy="48.8" r="1.0" fill="#111"/>
<circle cx="498" cy="51.2" r="1.0" fill="#111"/>
<path d="M484.2,259.7 V297.9 M494.5,259.7 V279" stroke="#111" stroke-width="1"/>
<circle cx="488.6" cy="278.8" r="1.0" fill="#111"/>
<text x="0" y="0" font-size="8" fill="#222" textLength="35.8" lengthAdjust="spacingAndGlyphs" transform="translate(498.9,251.6) rotate(90)">p=0.0584</text>
<circle cx="395.5" cy="164.9" r="0.95" fill="#111"/>
<circle cx="395.5" cy="168" r="0.95" fill="#111"/>
<circle cx="408.5" cy="163.5" r="0.95" fill="#111"/>
<circle cx="408.5" cy="166.6" r="0.95" fill="#111"/>
<circle cx="408.5" cy="169.7" r="0.95" fill="#111"/>
<circle cx="408.5" cy="172.8" r="0.95" fill="#111"/>
<circle cx="421.4" cy="152.3" r="0.95" fill="#111"/>
<circle cx="421.4" cy="155.4" r="0.95" fill="#111"/>
<circle cx="421.4" cy="158.5" r="0.95" fill="#111"/>
<circle cx="434.4" cy="140.9" r="0.95" fill="#111"/>
<circle cx="409.4" cy="381.4" r="0.95" fill="#111"/>
<circle cx="422.2" cy="381.1" r="0.95" fill="#111"/>
<circle cx="422.2" cy="384.5" r="0.95" fill="#111"/>
<text x="368.4" y="216.7" font-size="10" fill="#1a1a1a" stroke="#1a1a1a" stroke-width="0.35" textLength="87.6" lengthAdjust="spacingAndGlyphs">CD8<tspan font-size="5.5" dy="-3.2">+</tspan><tspan dy="3.2">Tregs : HLA-A*02</tspan><tspan font-size="5.5" dy="-3.2">-</tspan><tspan dy="3.2"> Teff</tspan></text>
<text x="370.7" y="445.6" font-size="10" fill="#1a1a1a" stroke="#1a1a1a" stroke-width="0.35" textLength="85.3" lengthAdjust="spacingAndGlyphs">CD8<tspan font-size="5.5" dy="-3.2">+</tspan><tspan dy="3.2">Tregs : HLA-A*02</tspan><tspan font-size="5.5" dy="-3.2">-</tspan><tspan dy="3.2"> Teff</tspan></text>
<text x="0" y="0" font-size="10.4" fill="#1a1a1a" stroke="#1a1a1a" stroke-width="0.3" textLength="71.1" lengthAdjust="spacingAndGlyphs" transform="translate(323.7,162.1) rotate(-90)">Relative proportion of</text>
<text x="0" y="0" font-size="10.4" fill="#1a1a1a" stroke="#1a1a1a" stroke-width="0.3" textLength="84.8" lengthAdjust="spacingAndGlyphs" transform="translate(335.2,168.4) rotate(-90)">dividing CD4<tspan font-size="5.5" dy="-3.2">+</tspan><tspan dy="3.2">CD25</tspan><tspan font-size="5.5" dy="-3.2">-</tspan><tspan dy="3.2"> T cells</tspan></text>
<text x="0" y="0" font-size="10.4" fill="#1a1a1a" stroke="#1a1a1a" stroke-width="0.3" textLength="69.6" lengthAdjust="spacingAndGlyphs" transform="translate(324.8,390.2) rotate(-90)">Relative proportion of</text>
<text x="0" y="0" font-size="10.4" fill="#1a1a1a" stroke="#1a1a1a" stroke-width="0.3" textLength="100.8" lengthAdjust="spacingAndGlyphs" transform="translate(336.6,405.8) rotate(-90)">dividing CD8<tspan font-size="5.5" dy="-3.2">+</tspan><tspan dy="3.2">CD45RC</tspan><tspan font-size="5" dy="-3.2">high</tspan><tspan dy="3.2"> T cells</tspan></text>
<rect x="1.5" y="1.5" width="517" height="453" fill="none" stroke="#eeeeee" stroke-width="1"/>
<rect x="0.5" y="0.5" width="519" height="455" fill="none" stroke="#000" stroke-width="1"/>
</svg></body></html>
